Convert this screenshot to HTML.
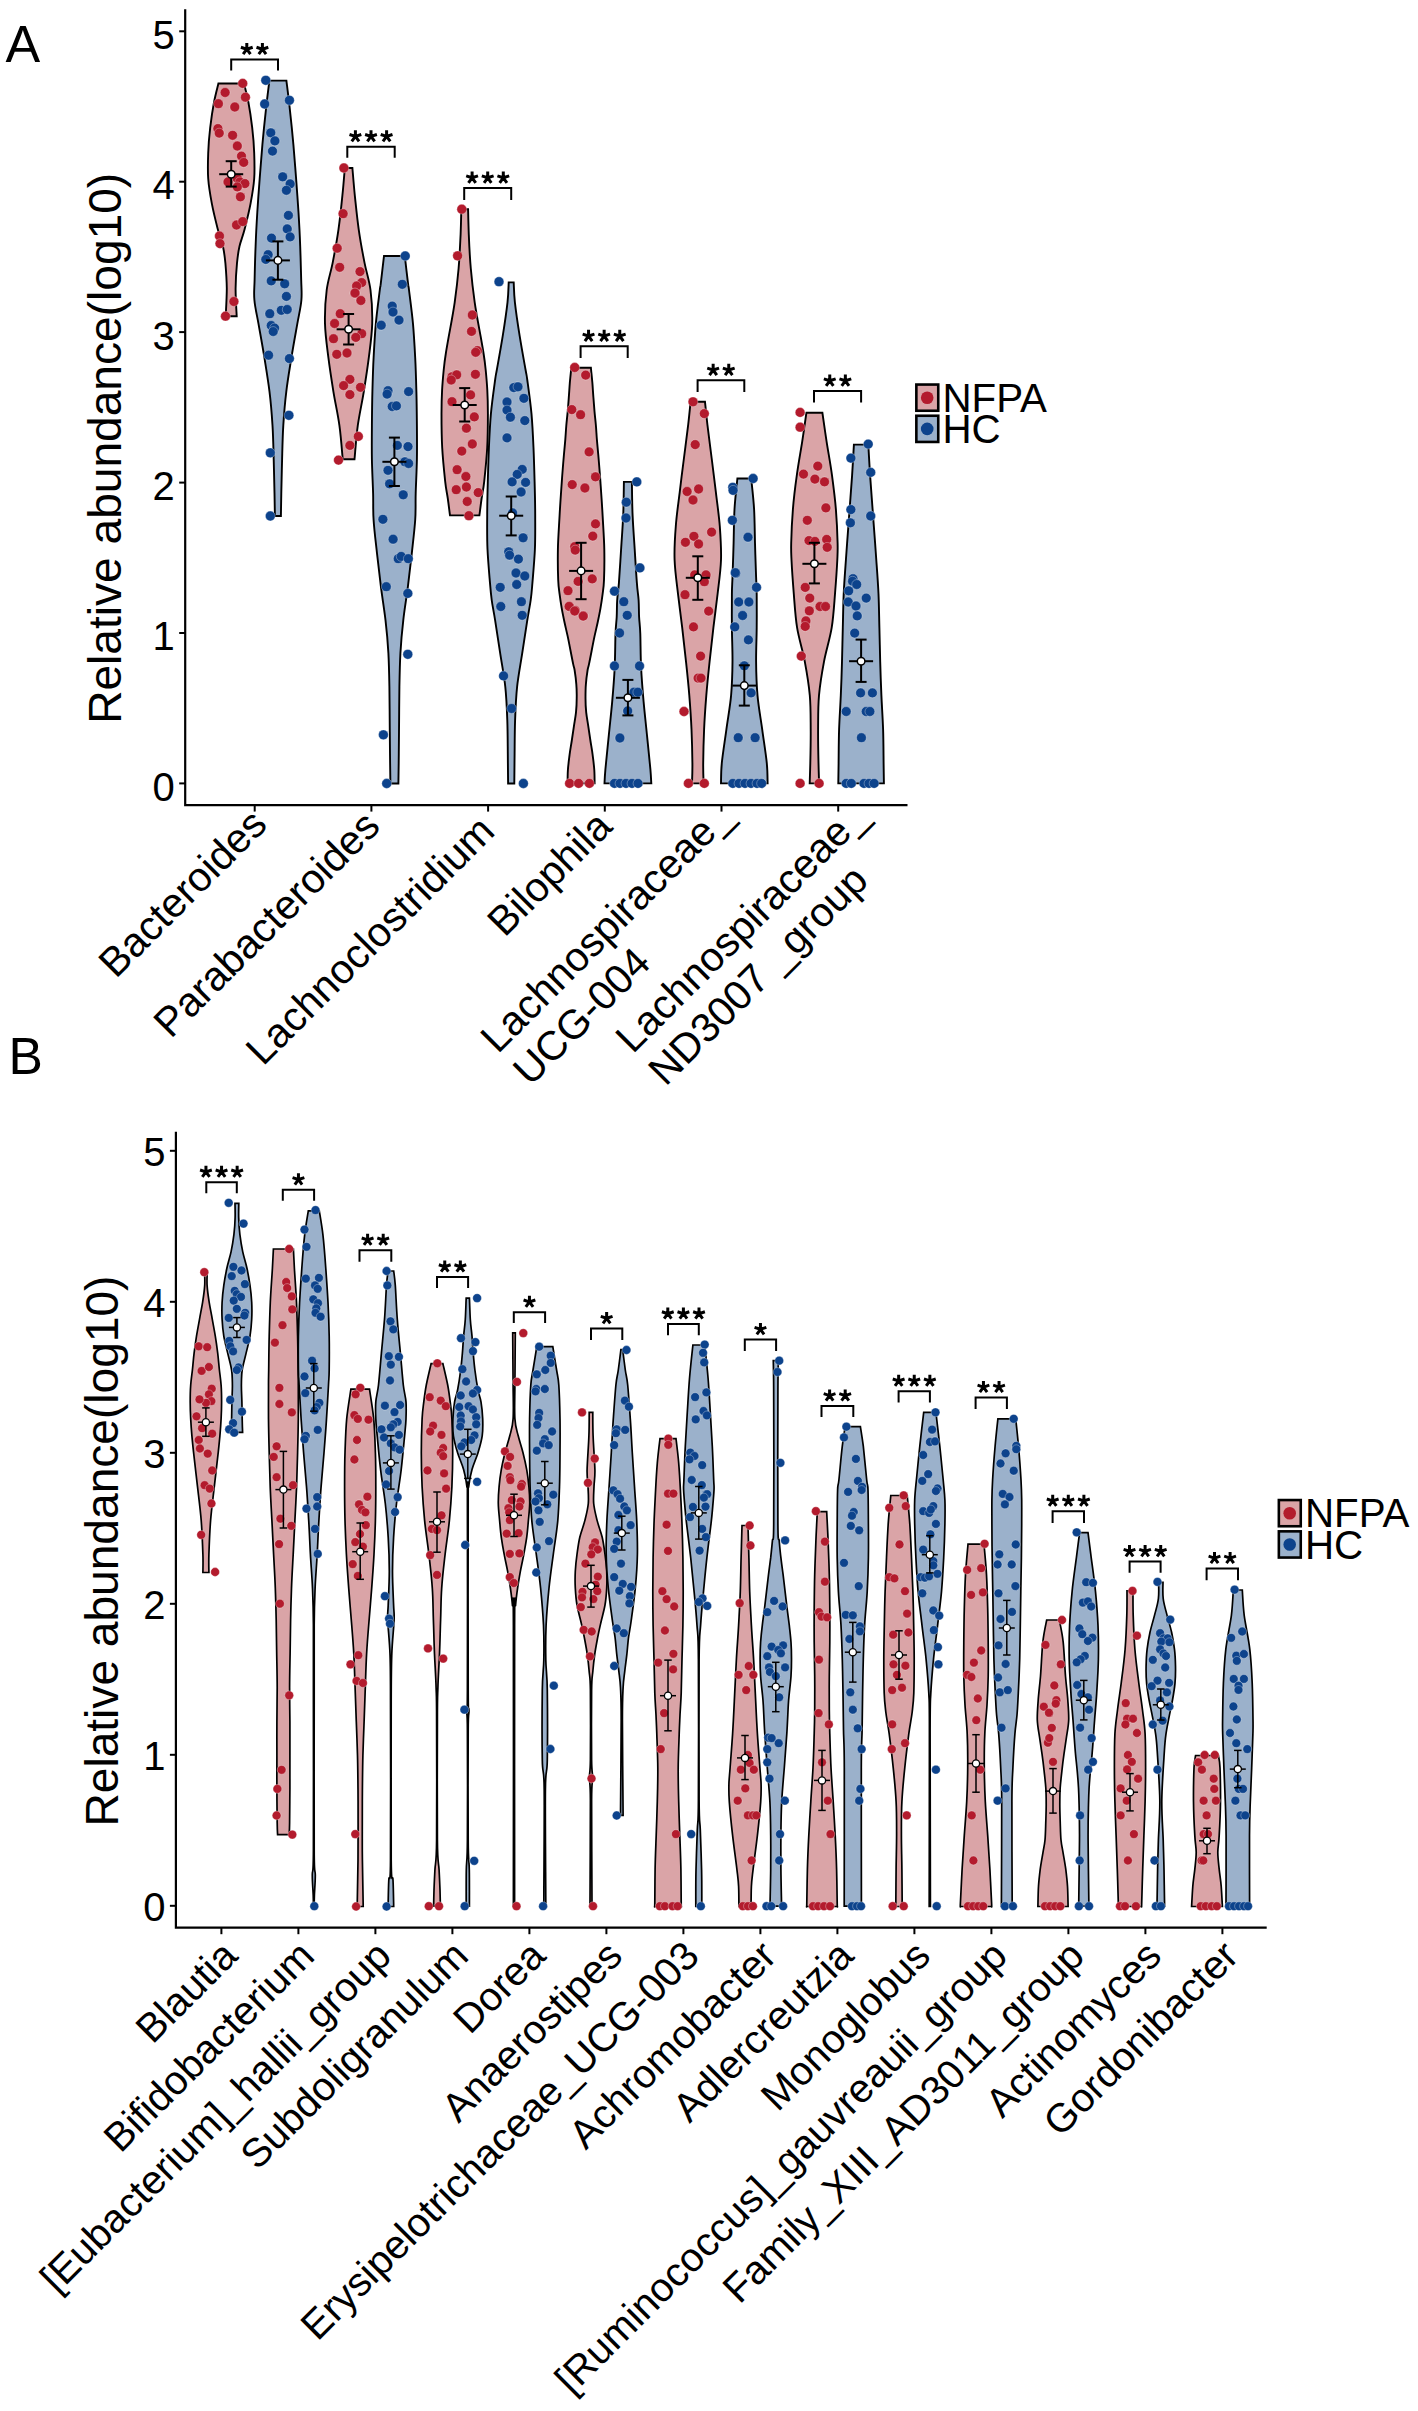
<!DOCTYPE html>
<html><head><meta charset="utf-8"><style>html,body{margin:0;padding:0;background:#fff;}svg{display:block}</style></head>
<body><svg xmlns="http://www.w3.org/2000/svg" width="1418" height="2411" viewBox="0 0 1418 2411">
<rect width="1418" height="2411" fill="#fff"/>
<text x="5.5" y="62.3" font-size="52" font-family="Liberation Sans, sans-serif">A</text>
<text transform="translate(120.7,723.8) rotate(-90)" font-size="46.1" font-family="Liberation Sans, sans-serif">Relative abundance(log10)</text>
<path d="M244.0,83.5 L218.4,83.5 C217.7,86.6 215.4,94.9 214.0,102.3 C212.6,109.7 211.2,119.2 210.2,127.7 C209.2,136.2 208.5,144.6 208.2,153.1 C207.9,161.6 207.6,170.0 208.2,178.5 C208.8,187.0 210.3,195.4 211.9,203.9 C213.5,212.4 216.0,222.2 217.8,229.3 C219.6,236.4 221.6,240.6 222.9,246.2 C224.2,251.8 224.7,256.1 225.4,263.1 C226.0,270.2 226.7,279.6 226.8,288.5 C226.8,297.4 225.9,311.6 225.7,316.2 L236.7,316.2 C236.5,311.6 235.5,297.4 235.6,288.5 C235.7,279.6 236.3,270.2 237.0,263.1 C237.7,256.1 238.2,251.8 239.5,246.2 C240.8,240.6 242.8,236.4 244.6,229.3 C246.4,222.2 248.9,212.4 250.5,203.9 C252.1,195.4 253.6,187.0 254.2,178.5 C254.8,170.0 254.5,161.6 254.2,153.1 C253.9,144.6 253.2,136.2 252.2,127.7 C251.2,119.2 249.8,109.7 248.4,102.3 C247.0,94.9 244.7,86.6 244.0,83.5 Z" fill="#DAA4A7" stroke="#000" stroke-width="1.9" stroke-linejoin="miter"/>
<path d="M286.4,80.6 L269.4,80.6 C268.8,85.6 266.9,100.1 265.8,110.8 C264.6,121.5 263.4,133.3 262.4,144.6 C261.4,155.9 260.6,167.2 259.7,178.5 C258.8,189.8 258.0,201.0 257.3,212.3 C256.6,223.6 256.0,234.9 255.6,246.2 C255.1,257.5 254.8,271.0 254.6,280.0 C254.4,289.0 253.7,292.7 254.4,300.0 C255.0,307.3 256.8,314.3 258.5,323.9 C260.2,333.5 262.6,346.4 264.4,357.7 C266.2,369.0 268.1,380.3 269.5,391.6 C270.9,402.9 271.8,414.1 272.5,425.4 C273.2,436.7 273.4,448.0 273.7,459.3 C274.0,470.6 274.3,483.7 274.5,493.1 C274.7,502.6 274.8,512.2 274.9,516.0 L280.9,516.0 C281.0,512.2 281.1,502.6 281.3,493.1 C281.5,483.7 281.8,470.6 282.1,459.3 C282.4,448.0 282.6,436.7 283.3,425.4 C284.0,414.1 284.9,402.9 286.3,391.6 C287.6,380.3 289.6,369.0 291.4,357.7 C293.2,346.4 295.6,333.5 297.3,323.9 C299.0,314.3 300.8,307.3 301.4,300.0 C302.0,292.7 301.4,289.0 301.2,280.0 C301.0,271.0 300.6,257.5 300.2,246.2 C299.8,234.9 299.2,223.6 298.5,212.3 C297.8,201.0 296.9,189.8 296.1,178.5 C295.2,167.2 294.4,155.9 293.4,144.6 C292.4,133.3 291.2,121.5 290.0,110.8 C288.9,100.1 287.0,85.6 286.4,80.6 Z" fill="#9BB1CB" stroke="#000" stroke-width="1.9" stroke-linejoin="miter"/>
<path d="M352.4,168.0 L344.8,168.0 C344.4,172.6 343.5,185.2 342.4,195.4 C341.4,205.6 340.1,218.0 338.5,229.3 C336.9,240.6 334.6,253.0 332.6,263.1 C330.6,273.2 328.0,279.9 326.7,290.0 C325.4,300.1 324.7,312.6 325.0,323.9 C325.3,335.2 327.0,346.4 328.4,357.7 C329.8,369.0 331.6,380.3 333.4,391.6 C335.2,402.9 337.9,414.1 339.4,425.4 C341.0,436.7 342.2,453.6 342.7,459.3 L354.5,459.3 C355.1,453.6 356.2,436.7 357.8,425.4 C359.4,414.1 362.0,402.9 363.8,391.6 C365.6,380.3 367.4,369.0 368.8,357.7 C370.2,346.4 371.9,335.2 372.2,323.9 C372.5,312.6 371.8,300.1 370.5,290.0 C369.2,279.9 366.6,273.2 364.6,263.1 C362.6,253.0 360.3,240.6 358.7,229.3 C357.1,218.0 355.9,205.6 354.8,195.4 C353.8,185.2 352.8,172.6 352.4,168.0 Z" fill="#DAA4A7" stroke="#000" stroke-width="1.9" stroke-linejoin="miter"/>
<path d="M404.8,256.0 L384.0,256.0 C383.4,260.7 381.4,278.5 380.7,284.2 C380.0,289.9 380.6,283.4 379.8,290.0 C379.0,296.6 376.8,312.6 375.8,323.9 C374.8,335.2 374.2,346.4 373.6,357.7 C373.0,369.0 372.7,380.3 372.4,391.6 C372.1,402.9 372.0,414.1 371.9,425.4 C371.8,436.7 371.7,448.0 371.9,459.3 C372.1,470.6 372.8,483.0 373.1,493.1 C373.4,503.2 372.9,509.9 373.6,520.0 C374.2,530.0 375.8,542.3 377.0,553.4 C378.2,564.5 379.5,575.6 380.9,586.7 C382.3,597.8 384.2,609.0 385.5,620.1 C386.8,631.2 387.8,642.3 388.4,653.4 C389.0,664.5 389.2,675.7 389.4,686.8 C389.6,697.9 389.6,709.0 389.7,720.1 C389.8,731.2 389.9,742.9 390.0,753.5 C390.1,764.1 390.3,778.5 390.4,783.5 L398.4,783.5 C398.5,778.5 398.7,764.1 398.8,753.5 C398.9,742.9 399.0,731.2 399.1,720.1 C399.2,709.0 399.2,697.9 399.4,686.8 C399.6,675.7 399.8,664.5 400.4,653.4 C401.0,642.3 402.0,631.2 403.3,620.1 C404.5,609.0 406.5,597.8 407.9,586.7 C409.3,575.6 410.6,564.5 411.8,553.4 C413.0,542.3 414.5,530.0 415.2,520.0 C415.9,509.9 415.4,503.2 415.7,493.1 C416.0,483.0 416.7,470.6 416.9,459.3 C417.1,448.0 417.0,436.7 416.9,425.4 C416.8,414.1 416.7,402.9 416.4,391.6 C416.1,380.3 415.8,369.0 415.2,357.7 C414.6,346.4 414.0,335.2 413.0,323.9 C412.0,312.6 409.8,296.6 409.0,290.0 C408.2,283.4 408.8,289.9 408.1,284.2 C407.4,278.5 405.3,260.7 404.8,256.0 Z" fill="#9BB1CB" stroke="#000" stroke-width="1.9" stroke-linejoin="miter"/>
<path d="M468.1,209.2 L461.3,209.2 C461.2,213.4 461.0,224.7 460.6,234.6 C460.1,244.5 459.6,257.2 458.6,268.5 C457.6,279.8 456.3,291.0 454.7,302.3 C453.1,313.6 450.3,327.8 448.8,336.2 C447.3,344.6 446.8,347.4 445.9,353.0 C445.0,358.6 444.3,363.8 443.7,370.0 C443.1,376.2 442.5,382.7 442.1,390.0 C441.7,397.3 441.5,404.3 441.5,413.9 C441.5,423.5 441.6,436.4 442.2,447.7 C442.8,459.0 444.3,473.1 445.2,481.6 C446.1,490.1 447.0,492.9 447.8,498.5 C448.6,504.1 449.6,512.6 450.0,515.4 L479.4,515.4 C479.8,512.6 480.8,504.1 481.6,498.5 C482.4,492.9 483.3,490.1 484.2,481.6 C485.1,473.1 486.6,459.0 487.2,447.7 C487.8,436.4 487.9,423.5 487.9,413.9 C487.9,404.3 487.7,397.3 487.3,390.0 C486.9,382.7 486.3,376.2 485.7,370.0 C485.1,363.8 484.4,358.6 483.5,353.0 C482.6,347.4 482.1,344.6 480.6,336.2 C479.1,327.8 476.3,313.6 474.7,302.3 C473.1,291.0 471.8,279.8 470.8,268.5 C469.8,257.2 469.2,244.5 468.8,234.6 C468.4,224.7 468.2,213.4 468.1,209.2 Z" fill="#DAA4A7" stroke="#000" stroke-width="1.9" stroke-linejoin="miter"/>
<path d="M513.7,282.4 L508.7,282.4 C508.5,285.7 508.5,293.3 507.5,302.3 C506.5,311.3 504.5,324.9 502.7,336.2 C500.9,347.5 498.1,362.7 496.8,370.0 C495.5,377.3 496.1,372.7 495.1,380.0 C494.1,387.3 491.9,402.6 490.9,413.9 C489.9,425.2 489.4,436.4 488.9,447.7 C488.4,459.0 488.1,470.3 487.8,481.6 C487.5,492.9 487.2,504.1 487.2,515.4 C487.1,526.7 487.0,538.0 487.5,549.3 C488.0,560.6 489.3,574.6 490.0,583.1 C490.7,591.6 490.9,593.8 491.7,600.0 C492.5,606.2 493.7,611.2 495.1,620.1 C496.5,629.0 498.5,642.3 500.2,653.4 C501.9,664.5 504.1,675.7 505.3,686.8 C506.5,697.9 506.9,709.0 507.3,720.1 C507.7,731.2 507.7,742.9 507.8,753.5 C507.9,764.1 508.0,778.5 508.1,783.5 L514.3,783.5 C514.3,778.5 514.5,764.1 514.6,753.5 C514.7,742.9 514.7,731.2 515.1,720.1 C515.5,709.0 515.9,697.9 517.1,686.8 C518.3,675.7 520.5,664.5 522.2,653.4 C523.9,642.3 525.9,629.0 527.3,620.1 C528.7,611.2 529.9,606.2 530.7,600.0 C531.6,593.8 531.7,591.6 532.4,583.1 C533.1,574.6 534.4,560.6 534.9,549.3 C535.4,538.0 535.2,526.7 535.2,515.4 C535.2,504.1 534.9,492.9 534.6,481.6 C534.3,470.3 534.0,459.0 533.5,447.7 C533.0,436.4 532.5,425.2 531.5,413.9 C530.5,402.6 528.3,387.3 527.3,380.0 C526.3,372.7 526.9,377.3 525.6,370.0 C524.3,362.7 521.5,347.5 519.7,336.2 C517.9,324.9 515.9,311.3 514.9,302.3 C513.9,293.3 513.9,285.7 513.7,282.4 Z" fill="#9BB1CB" stroke="#000" stroke-width="1.9" stroke-linejoin="miter"/>
<path d="M590.9,367.7 L571.3,367.7 C571.1,370.3 570.2,378.3 569.8,383.2 C569.4,388.1 569.2,392.6 568.8,397.3 C568.5,402.0 568.1,406.7 567.7,411.4 C567.3,416.1 566.7,420.8 566.3,425.5 C565.9,430.2 565.7,434.7 565.3,439.6 C564.9,444.5 564.5,448.0 563.9,455.0 C563.3,462.0 562.5,471.5 561.8,481.6 C561.1,491.7 560.2,504.1 559.6,515.4 C559.0,526.7 558.1,538.5 557.9,549.3 C557.7,560.1 557.9,572.5 558.2,580.0 C558.5,587.5 559.0,589.4 559.6,594.1 C560.2,598.8 560.9,603.5 561.7,608.2 C562.5,612.9 563.5,617.6 564.5,622.3 C565.5,627.0 566.7,631.7 567.7,636.4 C568.7,641.1 569.6,645.8 570.5,650.5 C571.4,655.2 572.6,661.4 573.3,664.6 C574.0,667.9 574.1,666.8 574.6,670.0 C575.1,673.2 576.0,679.4 576.3,684.1 C576.7,688.8 576.8,693.5 576.7,698.2 C576.7,702.9 576.5,707.6 576.0,712.3 C575.5,717.0 574.6,721.7 573.9,726.4 C573.2,731.1 572.5,735.8 571.8,740.5 C571.1,745.2 570.2,749.7 569.6,754.6 C569.0,759.5 568.2,765.2 567.9,770.0 C567.6,774.8 567.6,781.2 567.6,783.4 L594.6,783.4 C594.6,781.2 594.6,774.8 594.3,770.0 C594.0,765.2 593.2,759.5 592.6,754.6 C592.0,749.7 591.1,745.2 590.4,740.5 C589.7,735.8 589.0,731.1 588.3,726.4 C587.6,721.7 586.7,717.0 586.2,712.3 C585.7,707.6 585.5,702.9 585.5,698.2 C585.5,693.5 585.5,688.8 585.9,684.1 C586.2,679.4 587.1,673.2 587.6,670.0 C588.1,666.8 588.2,667.9 588.9,664.6 C589.6,661.4 590.8,655.2 591.7,650.5 C592.6,645.8 593.5,641.1 594.5,636.4 C595.5,631.7 596.7,627.0 597.7,622.3 C598.7,617.6 599.7,612.9 600.5,608.2 C601.3,603.5 602.0,598.8 602.6,594.1 C603.2,589.4 603.7,587.5 604.0,580.0 C604.3,572.5 604.5,560.1 604.3,549.3 C604.1,538.5 603.2,526.7 602.6,515.4 C602.0,504.1 601.1,491.7 600.4,481.6 C599.7,471.5 598.9,462.0 598.3,455.0 C597.7,448.0 597.3,444.5 596.9,439.6 C596.5,434.7 596.3,430.2 595.9,425.5 C595.5,420.8 594.9,416.1 594.5,411.4 C594.1,406.7 593.8,402.0 593.4,397.3 C593.0,392.6 592.8,388.1 592.4,383.2 C592.0,378.3 591.1,370.3 590.9,367.7 Z" fill="#DAA4A7" stroke="#000" stroke-width="1.9" stroke-linejoin="miter"/>
<path d="M631.9,481.9 L623.9,481.9 C623.8,487.5 623.7,504.2 623.2,515.4 C622.7,526.6 621.8,538.0 621.1,549.3 C620.4,560.6 619.5,574.6 618.9,583.1 C618.2,591.6 617.6,594.4 617.2,600.0 C616.8,605.6 617.0,611.4 616.7,617.0 C616.4,622.6 615.8,625.4 615.5,633.9 C615.2,642.4 615.2,656.4 614.7,667.7 C614.1,679.0 613.2,690.3 612.2,701.6 C611.2,712.9 609.9,724.1 608.8,735.4 C607.7,746.7 606.1,761.3 605.4,769.3 C604.7,777.3 604.6,781.0 604.5,783.4 L651.3,783.4 C651.1,781.0 651.1,777.3 650.4,769.3 C649.7,761.3 648.1,746.7 647.0,735.4 C645.9,724.1 644.6,712.9 643.6,701.6 C642.6,690.3 641.7,679.0 641.1,667.7 C640.5,656.4 640.6,642.4 640.3,633.9 C640.0,625.4 639.4,622.6 639.1,617.0 C638.8,611.4 639.0,605.6 638.6,600.0 C638.2,594.4 637.5,591.6 636.9,583.1 C636.2,574.6 635.4,560.6 634.7,549.3 C634.0,538.0 633.1,526.6 632.6,515.4 C632.1,504.2 632.0,487.5 631.9,481.9 Z" fill="#9BB1CB" stroke="#000" stroke-width="1.9" stroke-linejoin="miter"/>
<path d="M705.0,401.8 L690.6,401.8 C690.2,405.6 689.3,415.2 688.2,424.6 C687.1,434.1 685.3,447.2 683.9,458.5 C682.5,469.8 681.0,481.0 679.7,492.3 C678.3,503.6 676.6,514.9 675.8,526.2 C674.9,537.5 674.2,548.7 674.6,560.0 C675.0,571.3 676.7,582.6 678.0,593.9 C679.3,605.2 680.9,616.4 682.2,627.7 C683.5,639.0 684.8,650.3 686.0,661.6 C687.2,672.9 688.4,684.1 689.3,695.4 C690.2,706.7 691.0,718.0 691.5,729.3 C692.0,740.6 692.3,754.1 692.4,763.1 C692.5,772.1 692.1,780.0 692.0,783.4 L703.6,783.4 C703.5,780.0 703.1,772.1 703.2,763.1 C703.3,754.1 703.6,740.6 704.1,729.3 C704.6,718.0 705.4,706.7 706.3,695.4 C707.2,684.1 708.4,672.9 709.6,661.6 C710.8,650.3 712.1,639.0 713.4,627.7 C714.7,616.4 716.3,605.2 717.6,593.9 C718.9,582.6 720.6,571.3 721.0,560.0 C721.4,548.7 720.6,537.5 719.8,526.2 C718.9,514.9 717.2,503.6 715.9,492.3 C714.5,481.0 713.1,469.8 711.7,458.5 C710.3,447.2 708.5,434.1 707.4,424.6 C706.3,415.2 705.4,405.6 705.0,401.8 Z" fill="#DAA4A7" stroke="#000" stroke-width="1.9" stroke-linejoin="miter"/>
<path d="M751.2,478.5 L737.4,478.5 C736.9,483.6 735.1,498.5 734.5,509.3 C733.9,520.1 733.9,531.8 733.6,543.1 C733.3,554.4 732.8,568.5 732.5,577.0 C732.2,585.5 732.0,585.4 731.9,593.9 C731.8,602.4 731.8,616.4 731.9,627.7 C732.0,639.0 732.6,650.3 732.5,661.6 C732.4,672.9 732.1,684.1 731.1,695.4 C730.1,706.7 727.9,718.0 726.4,729.3 C724.9,740.6 722.7,754.1 721.8,763.1 C720.9,772.1 721.1,780.0 721.0,783.4 L767.6,783.4 C767.5,780.0 767.7,772.1 766.8,763.1 C765.9,754.1 763.7,740.6 762.2,729.3 C760.6,718.0 758.5,706.7 757.5,695.4 C756.5,684.1 756.2,672.9 756.1,661.6 C756.0,650.3 756.6,639.0 756.7,627.7 C756.8,616.4 756.8,602.4 756.7,593.9 C756.6,585.4 756.4,585.5 756.1,577.0 C755.8,568.5 755.3,554.4 755.0,543.1 C754.7,531.8 754.7,520.1 754.1,509.3 C753.5,498.5 751.7,483.6 751.2,478.5 Z" fill="#9BB1CB" stroke="#000" stroke-width="1.9" stroke-linejoin="miter"/>
<path d="M822.4,412.8 L806.4,412.8 C805.7,417.6 803.8,431.2 802.2,441.6 C800.6,452.0 798.3,464.1 796.8,475.4 C795.2,486.7 793.8,498.0 792.9,509.3 C792.0,520.6 791.4,534.6 791.2,543.1 C791.0,551.6 791.1,551.5 791.5,560.0 C791.9,568.5 792.9,582.6 793.8,593.9 C794.7,605.2 795.3,616.4 797.1,627.7 C798.9,639.0 802.7,650.3 804.8,661.6 C806.9,672.9 808.8,684.1 809.8,695.4 C810.8,706.7 810.6,718.0 810.7,729.3 C810.8,740.6 810.5,754.1 810.3,763.1 C810.1,772.1 809.8,780.0 809.7,783.4 L819.1,783.4 C819.0,780.0 818.7,772.1 818.5,763.1 C818.3,754.1 818.0,740.6 818.1,729.3 C818.2,718.0 818.0,706.7 819.0,695.4 C820.0,684.1 821.9,672.9 824.0,661.6 C826.1,650.3 829.9,639.0 831.7,627.7 C833.5,616.4 834.1,605.2 835.0,593.9 C835.9,582.6 836.9,568.5 837.3,560.0 C837.7,551.5 837.8,551.6 837.6,543.1 C837.4,534.6 836.8,520.6 835.9,509.3 C835.0,498.0 833.5,486.7 832.0,475.4 C830.5,464.1 828.2,452.0 826.6,441.6 C825.0,431.2 823.1,417.6 822.4,412.8 Z" fill="#DAA4A7" stroke="#000" stroke-width="1.9" stroke-linejoin="miter"/>
<path d="M868.3,444.6 L853.9,444.6 C853.6,449.7 852.8,464.6 852.1,475.4 C851.4,486.2 850.4,498.0 849.6,509.3 C848.8,520.6 847.7,534.6 847.1,543.1 C846.5,551.6 846.5,551.5 845.9,560.0 C845.3,568.5 844.2,582.6 843.7,593.9 C843.2,605.2 843.1,616.4 842.8,627.7 C842.5,639.0 842.3,650.3 842.0,661.6 C841.7,672.9 841.3,684.1 840.8,695.4 C840.3,706.7 839.5,718.0 839.1,729.3 C838.7,740.6 838.7,754.1 838.6,763.1 C838.5,772.1 838.4,780.0 838.3,783.4 L883.9,783.4 C883.9,780.0 883.7,772.1 883.6,763.1 C883.5,754.1 883.5,740.6 883.1,729.3 C882.7,718.0 881.9,706.7 881.4,695.4 C880.9,684.1 880.5,672.9 880.2,661.6 C879.9,650.3 879.7,639.0 879.4,627.7 C879.1,616.4 879.0,605.2 878.5,593.9 C878.0,582.6 876.9,568.5 876.3,560.0 C875.7,551.5 875.7,551.6 875.1,543.1 C874.5,534.6 873.4,520.6 872.6,509.3 C871.8,498.0 870.8,486.2 870.1,475.4 C869.4,464.6 868.6,449.7 868.3,444.6 Z" fill="#9BB1CB" stroke="#000" stroke-width="1.9" stroke-linejoin="miter"/>
<g fill="#B31B2D" stroke="#fff" stroke-opacity="0.35" stroke-width="0.9"><circle cx="242.7" cy="83.4" r="4.9"/><circle cx="225.1" cy="92.5" r="4.9"/><circle cx="245.4" cy="97.2" r="4.9"/><circle cx="218.4" cy="103.7" r="4.9"/><circle cx="234.8" cy="107.0" r="4.9"/><circle cx="217.9" cy="128.6" r="4.9"/><circle cx="219.2" cy="133.1" r="4.9"/><circle cx="232.6" cy="135.3" r="4.9"/><circle cx="237.3" cy="146.0" r="4.9"/><circle cx="241.5" cy="156.1" r="4.9"/><circle cx="243.7" cy="162.4" r="4.9"/><circle cx="228.0" cy="181.9" r="4.9"/><circle cx="237.3" cy="178.5" r="4.9"/><circle cx="239.9" cy="181.9" r="4.9"/><circle cx="244.9" cy="183.6" r="4.9"/><circle cx="237.3" cy="186.9" r="4.9"/><circle cx="240.4" cy="196.8" r="4.9"/><circle cx="236.5" cy="225.0" r="4.9"/><circle cx="242.7" cy="221.6" r="4.9"/><circle cx="219.5" cy="236.0" r="4.9"/><circle cx="220.0" cy="243.6" r="4.9"/><circle cx="233.9" cy="301.5" r="4.9"/><circle cx="225.5" cy="316.2" r="4.9"/></g>
<g fill="#0D438C" stroke="#fff" stroke-opacity="0.35" stroke-width="0.9"><circle cx="265.8" cy="80.3" r="4.9"/><circle cx="289.4" cy="100.3" r="4.9"/><circle cx="264.7" cy="104.0" r="4.9"/><circle cx="270.8" cy="132.8" r="4.9"/><circle cx="274.9" cy="140.9" r="4.9"/><circle cx="272.5" cy="151.1" r="4.9"/><circle cx="282.7" cy="176.8" r="4.9"/><circle cx="290.1" cy="183.9" r="4.9"/><circle cx="286.4" cy="190.3" r="4.9"/><circle cx="288.4" cy="215.4" r="4.9"/><circle cx="287.2" cy="228.9" r="4.9"/><circle cx="290.1" cy="236.9" r="4.9"/><circle cx="271.5" cy="238.1" r="4.9"/><circle cx="268.1" cy="254.7" r="4.9"/><circle cx="265.8" cy="259.4" r="4.9"/><circle cx="271.2" cy="280.9" r="4.9"/><circle cx="284.7" cy="283.8" r="4.9"/><circle cx="286.4" cy="296.4" r="4.9"/><circle cx="281.3" cy="310.3" r="4.9"/><circle cx="287.2" cy="309.5" r="4.9"/><circle cx="269.8" cy="313.7" r="4.9"/><circle cx="271.2" cy="325.5" r="4.9"/><circle cx="274.6" cy="328.1" r="4.9"/><circle cx="273.2" cy="331.5" r="4.9"/><circle cx="268.6" cy="355.2" r="4.9"/><circle cx="289.4" cy="358.6" r="4.9"/><circle cx="288.9" cy="415.3" r="4.9"/><circle cx="270.3" cy="452.8" r="4.9"/><circle cx="270.3" cy="516.0" r="4.9"/></g>
<g fill="#B31B2D" stroke="#fff" stroke-opacity="0.35" stroke-width="0.9"><circle cx="343.9" cy="168.0" r="4.9"/><circle cx="343.1" cy="213.7" r="4.9"/><circle cx="337.2" cy="248.2" r="4.9"/><circle cx="339.7" cy="267.3" r="4.9"/><circle cx="360.0" cy="271.6" r="4.9"/><circle cx="361.7" cy="282.6" r="4.9"/><circle cx="356.6" cy="286.0" r="4.9"/><circle cx="355.0" cy="293.2" r="4.9"/><circle cx="355.0" cy="293.0" r="4.9"/><circle cx="360.9" cy="300.5" r="4.9"/><circle cx="340.2" cy="313.7" r="4.9"/><circle cx="334.6" cy="323.5" r="4.9"/><circle cx="361.7" cy="333.7" r="4.9"/><circle cx="355.8" cy="337.4" r="4.9"/><circle cx="333.5" cy="338.7" r="4.9"/><circle cx="336.8" cy="354.3" r="4.9"/><circle cx="347.0" cy="353.0" r="4.9"/><circle cx="349.9" cy="379.4" r="4.9"/><circle cx="343.6" cy="385.6" r="4.9"/><circle cx="360.5" cy="387.3" r="4.9"/><circle cx="349.9" cy="394.6" r="4.9"/><circle cx="358.3" cy="436.4" r="4.9"/><circle cx="349.9" cy="445.4" r="4.9"/><circle cx="338.5" cy="460.1" r="4.9"/></g>
<g fill="#0D438C" stroke="#fff" stroke-opacity="0.35" stroke-width="0.9"><circle cx="405.2" cy="256.0" r="4.9"/><circle cx="402.3" cy="284.3" r="4.9"/><circle cx="392.2" cy="306.1" r="4.9"/><circle cx="393.0" cy="312.0" r="4.9"/><circle cx="399.0" cy="320.1" r="4.9"/><circle cx="381.2" cy="325.2" r="4.9"/><circle cx="388.0" cy="390.7" r="4.9"/><circle cx="387.1" cy="394.1" r="4.9"/><circle cx="408.6" cy="391.6" r="4.9"/><circle cx="392.2" cy="406.5" r="4.9"/><circle cx="396.4" cy="405.9" r="4.9"/><circle cx="397.3" cy="445.4" r="4.9"/><circle cx="408.0" cy="446.6" r="4.9"/><circle cx="404.9" cy="461.8" r="4.9"/><circle cx="408.6" cy="463.5" r="4.9"/><circle cx="388.0" cy="470.3" r="4.9"/><circle cx="389.6" cy="483.8" r="4.9"/><circle cx="403.2" cy="494.8" r="4.9"/><circle cx="382.9" cy="519.3" r="4.9"/><circle cx="393.1" cy="539.2" r="4.9"/><circle cx="398.2" cy="558.7" r="4.9"/><circle cx="401.2" cy="556.4" r="4.9"/><circle cx="408.3" cy="558.7" r="4.9"/><circle cx="386.3" cy="586.7" r="4.9"/><circle cx="407.8" cy="593.4" r="4.9"/><circle cx="407.8" cy="654.3" r="4.9"/><circle cx="383.4" cy="734.8" r="4.9"/><circle cx="386.7" cy="783.5" r="4.9"/></g>
<g fill="#B31B2D" stroke="#fff" stroke-opacity="0.35" stroke-width="0.9"><circle cx="461.8" cy="209.2" r="4.9"/><circle cx="457.6" cy="255.8" r="4.9"/><circle cx="472.3" cy="315.0" r="4.9"/><circle cx="471.5" cy="331.4" r="4.9"/><circle cx="477.4" cy="350.6" r="4.9"/><circle cx="475.7" cy="352.3" r="4.9"/><circle cx="452.0" cy="376.8" r="4.9"/><circle cx="456.7" cy="374.8" r="4.9"/><circle cx="475.4" cy="374.3" r="4.9"/><circle cx="451.2" cy="380.0" r="4.9"/><circle cx="470.6" cy="394.9" r="4.9"/><circle cx="452.0" cy="401.7" r="4.9"/><circle cx="474.3" cy="416.9" r="4.9"/><circle cx="466.4" cy="428.2" r="4.9"/><circle cx="472.3" cy="444.0" r="4.9"/><circle cx="461.8" cy="451.1" r="4.9"/><circle cx="457.1" cy="469.7" r="4.9"/><circle cx="465.9" cy="476.5" r="4.9"/><circle cx="456.2" cy="489.7" r="4.9"/><circle cx="466.4" cy="487.0" r="4.9"/><circle cx="478.2" cy="492.6" r="4.9"/><circle cx="467.2" cy="501.5" r="4.9"/><circle cx="468.9" cy="515.7" r="4.9"/></g>
<g fill="#0D438C" stroke="#fff" stroke-opacity="0.35" stroke-width="0.9"><circle cx="499.0" cy="281.7" r="4.9"/><circle cx="516.3" cy="387.0" r="4.9"/><circle cx="513.8" cy="387.6" r="4.9"/><circle cx="518.0" cy="386.8" r="4.9"/><circle cx="523.9" cy="398.3" r="4.9"/><circle cx="507.0" cy="402.0" r="4.9"/><circle cx="507.0" cy="410.1" r="4.9"/><circle cx="510.4" cy="417.2" r="4.9"/><circle cx="524.8" cy="420.6" r="4.9"/><circle cx="507.0" cy="437.9" r="4.9"/><circle cx="522.2" cy="469.4" r="4.9"/><circle cx="517.2" cy="474.4" r="4.9"/><circle cx="512.1" cy="481.9" r="4.9"/><circle cx="525.6" cy="482.4" r="4.9"/><circle cx="521.1" cy="492.0" r="4.9"/><circle cx="512.6" cy="512.9" r="4.9"/><circle cx="523.1" cy="537.8" r="4.9"/><circle cx="508.7" cy="551.8" r="4.9"/><circle cx="509.6" cy="555.2" r="4.9"/><circle cx="518.4" cy="559.1" r="4.9"/><circle cx="516.0" cy="573.0" r="4.9"/><circle cx="524.8" cy="576.0" r="4.9"/><circle cx="516.7" cy="584.5" r="4.9"/><circle cx="500.2" cy="587.3" r="4.9"/><circle cx="521.4" cy="601.7" r="4.9"/><circle cx="500.8" cy="606.5" r="4.9"/><circle cx="522.2" cy="615.3" r="4.9"/><circle cx="503.6" cy="675.9" r="4.9"/><circle cx="511.6" cy="708.5" r="4.9"/><circle cx="523.4" cy="783.5" r="4.9"/></g>
<g fill="#B31B2D" stroke="#fff" stroke-opacity="0.35" stroke-width="0.9"><circle cx="574.7" cy="367.5" r="4.9"/><circle cx="585.7" cy="375.1" r="4.9"/><circle cx="571.8" cy="409.6" r="4.9"/><circle cx="580.6" cy="414.7" r="4.9"/><circle cx="589.1" cy="451.9" r="4.9"/><circle cx="595.5" cy="476.8" r="4.9"/><circle cx="572.2" cy="484.6" r="4.9"/><circle cx="584.9" cy="488.0" r="4.9"/><circle cx="595.5" cy="523.9" r="4.9"/><circle cx="592.8" cy="536.1" r="4.9"/><circle cx="574.7" cy="546.7" r="4.9"/><circle cx="575.2" cy="550.1" r="4.9"/><circle cx="592.2" cy="578.9" r="4.9"/><circle cx="578.1" cy="581.4" r="4.9"/><circle cx="568.0" cy="590.7" r="4.9"/><circle cx="569.6" cy="606.5" r="4.9"/><circle cx="575.2" cy="610.5" r="4.9"/><circle cx="583.2" cy="615.6" r="4.9"/><circle cx="569.1" cy="606.4" r="4.9"/><circle cx="574.7" cy="611.0" r="4.9"/><circle cx="583.2" cy="616.1" r="4.9"/><circle cx="569.6" cy="783.4" r="4.9"/><circle cx="578.6" cy="783.4" r="4.9"/><circle cx="589.4" cy="783.4" r="4.9"/></g>
<g fill="#0D438C" stroke="#fff" stroke-opacity="0.35" stroke-width="0.9"><circle cx="636.8" cy="481.9" r="4.9"/><circle cx="626.3" cy="502.2" r="4.9"/><circle cx="626.0" cy="518.0" r="4.9"/><circle cx="639.9" cy="567.9" r="4.9"/><circle cx="614.5" cy="591.2" r="4.9"/><circle cx="623.8" cy="601.7" r="4.9"/><circle cx="627.2" cy="615.3" r="4.9"/><circle cx="619.6" cy="633.0" r="4.9"/><circle cx="614.5" cy="666.0" r="4.9"/><circle cx="639.5" cy="666.0" r="4.9"/><circle cx="633.9" cy="692.2" r="4.9"/><circle cx="637.8" cy="692.2" r="4.9"/><circle cx="627.7" cy="710.9" r="4.9"/><circle cx="619.9" cy="738.0" r="4.9"/><circle cx="614.5" cy="783.4" r="4.9"/><circle cx="620.0" cy="783.4" r="4.9"/><circle cx="626.0" cy="783.4" r="4.9"/><circle cx="632.0" cy="783.4" r="4.9"/><circle cx="638.0" cy="783.4" r="4.9"/></g>
<g fill="#B31B2D" stroke="#fff" stroke-opacity="0.35" stroke-width="0.9"><circle cx="693.0" cy="401.8" r="4.9"/><circle cx="704.3" cy="413.6" r="4.9"/><circle cx="695.2" cy="444.6" r="4.9"/><circle cx="687.1" cy="491.5" r="4.9"/><circle cx="698.6" cy="489.0" r="4.9"/><circle cx="693.0" cy="500.0" r="4.9"/><circle cx="711.6" cy="532.1" r="4.9"/><circle cx="693.9" cy="536.3" r="4.9"/><circle cx="685.4" cy="542.3" r="4.9"/><circle cx="698.6" cy="544.0" r="4.9"/><circle cx="694.7" cy="574.9" r="4.9"/><circle cx="706.0" cy="574.9" r="4.9"/><circle cx="704.3" cy="581.7" r="4.9"/><circle cx="685.0" cy="594.7" r="4.9"/><circle cx="708.7" cy="611.1" r="4.9"/><circle cx="693.5" cy="626.9" r="4.9"/><circle cx="700.6" cy="656.1" r="4.9"/><circle cx="698.1" cy="678.1" r="4.9"/><circle cx="701.0" cy="678.1" r="4.9"/><circle cx="684.0" cy="711.5" r="4.9"/><circle cx="688.4" cy="783.4" r="4.9"/><circle cx="704.3" cy="783.4" r="4.9"/></g>
<g fill="#0D438C" stroke="#fff" stroke-opacity="0.35" stroke-width="0.9"><circle cx="753.1" cy="478.5" r="4.9"/><circle cx="732.8" cy="487.3" r="4.9"/><circle cx="733.1" cy="490.3" r="4.9"/><circle cx="732.4" cy="520.3" r="4.9"/><circle cx="748.0" cy="537.2" r="4.9"/><circle cx="735.8" cy="573.2" r="4.9"/><circle cx="735.3" cy="572.7" r="4.9"/><circle cx="756.5" cy="587.4" r="4.9"/><circle cx="738.7" cy="602.0" r="4.9"/><circle cx="748.9" cy="602.0" r="4.9"/><circle cx="742.6" cy="615.5" r="4.9"/><circle cx="734.8" cy="626.9" r="4.9"/><circle cx="748.4" cy="639.9" r="4.9"/><circle cx="744.3" cy="665.8" r="4.9"/><circle cx="751.1" cy="692.9" r="4.9"/><circle cx="738.2" cy="737.7" r="4.9"/><circle cx="755.1" cy="737.7" r="4.9"/><circle cx="732.8" cy="783.4" r="4.9"/><circle cx="739.0" cy="783.4" r="4.9"/><circle cx="745.0" cy="783.4" r="4.9"/><circle cx="751.0" cy="783.4" r="4.9"/><circle cx="757.0" cy="783.4" r="4.9"/><circle cx="761.6" cy="783.4" r="4.9"/></g>
<g fill="#B31B2D" stroke="#fff" stroke-opacity="0.35" stroke-width="0.9"><circle cx="800.1" cy="412.4" r="4.9"/><circle cx="800.1" cy="427.2" r="4.9"/><circle cx="817.8" cy="466.1" r="4.9"/><circle cx="803.5" cy="474.1" r="4.9"/><circle cx="814.9" cy="479.1" r="4.9"/><circle cx="824.5" cy="481.8" r="4.9"/><circle cx="825.9" cy="507.9" r="4.9"/><circle cx="807.3" cy="520.3" r="4.9"/><circle cx="809.0" cy="540.6" r="4.9"/><circle cx="814.9" cy="541.4" r="4.9"/><circle cx="826.7" cy="539.4" r="4.9"/><circle cx="827.2" cy="547.3" r="4.9"/><circle cx="805.2" cy="587.4" r="4.9"/><circle cx="809.8" cy="598.1" r="4.9"/><circle cx="820.0" cy="606.5" r="4.9"/><circle cx="825.5" cy="606.5" r="4.9"/><circle cx="809.3" cy="610.8" r="4.9"/><circle cx="805.9" cy="620.9" r="4.9"/><circle cx="805.2" cy="626.4" r="4.9"/><circle cx="801.3" cy="656.1" r="4.9"/><circle cx="800.1" cy="783.4" r="4.9"/><circle cx="819.1" cy="783.4" r="4.9"/></g>
<g fill="#0D438C" stroke="#fff" stroke-opacity="0.35" stroke-width="0.9"><circle cx="868.2" cy="444.1" r="4.9"/><circle cx="850.9" cy="458.1" r="4.9"/><circle cx="870.7" cy="472.4" r="4.9"/><circle cx="850.9" cy="509.6" r="4.9"/><circle cx="870.7" cy="516.0" r="4.9"/><circle cx="850.4" cy="522.8" r="4.9"/><circle cx="853.0" cy="578.7" r="4.9"/><circle cx="852.6" cy="581.2" r="4.9"/><circle cx="856.7" cy="584.5" r="4.9"/><circle cx="848.7" cy="590.8" r="4.9"/><circle cx="866.2" cy="598.1" r="4.9"/><circle cx="848.2" cy="602.0" r="4.9"/><circle cx="856.0" cy="606.0" r="4.9"/><circle cx="857.2" cy="615.9" r="4.9"/><circle cx="854.7" cy="633.1" r="4.9"/><circle cx="860.6" cy="692.9" r="4.9"/><circle cx="872.4" cy="692.9" r="4.9"/><circle cx="846.2" cy="711.5" r="4.9"/><circle cx="866.2" cy="711.5" r="4.9"/><circle cx="869.9" cy="711.5" r="4.9"/><circle cx="861.4" cy="737.7" r="4.9"/><circle cx="846.2" cy="783.4" r="4.9"/><circle cx="851.3" cy="783.4" r="4.9"/><circle cx="864.0" cy="783.4" r="4.9"/><circle cx="869.0" cy="783.4" r="4.9"/><circle cx="874.1" cy="783.4" r="4.9"/></g>
<g stroke="#000" stroke-width="2" fill="none"><line x1="231.2" y1="161.2" x2="231.2" y2="186.6"/><line x1="225.7" y1="161.2" x2="236.7" y2="161.2"/><line x1="225.7" y1="186.6" x2="236.7" y2="186.6"/><line x1="219.2" y1="174.2" x2="243.2" y2="174.2"/></g><circle cx="231.2" cy="174.2" r="3.8" fill="#fff" stroke="#000" stroke-width="1.5"/>
<g stroke="#000" stroke-width="2" fill="none"><line x1="277.9" y1="241.4" x2="277.9" y2="279.7"/><line x1="272.4" y1="241.4" x2="283.4" y2="241.4"/><line x1="272.4" y1="279.7" x2="283.4" y2="279.7"/><line x1="265.9" y1="260.4" x2="289.9" y2="260.4"/></g><circle cx="277.9" cy="260.4" r="3.8" fill="#fff" stroke="#000" stroke-width="1.5"/>
<g stroke="#000" stroke-width="2" fill="none"><line x1="348.6" y1="314" x2="348.6" y2="344.5"/><line x1="343.1" y1="314" x2="354.1" y2="314"/><line x1="343.1" y1="344.5" x2="354.1" y2="344.5"/><line x1="336.6" y1="329.3" x2="360.6" y2="329.3"/></g><circle cx="348.6" cy="329.3" r="3.8" fill="#fff" stroke="#000" stroke-width="1.5"/>
<g stroke="#000" stroke-width="2" fill="none"><line x1="394.4" y1="437.6" x2="394.4" y2="486"/><line x1="388.9" y1="437.6" x2="399.9" y2="437.6"/><line x1="388.9" y1="486" x2="399.9" y2="486"/><line x1="382.4" y1="461.8" x2="406.4" y2="461.8"/></g><circle cx="394.4" cy="461.8" r="3.8" fill="#fff" stroke="#000" stroke-width="1.5"/>
<g stroke="#000" stroke-width="2" fill="none"><line x1="464.7" y1="388.1" x2="464.7" y2="421.5"/><line x1="459.2" y1="388.1" x2="470.2" y2="388.1"/><line x1="459.2" y1="421.5" x2="470.2" y2="421.5"/><line x1="452.7" y1="405" x2="476.7" y2="405"/></g><circle cx="464.7" cy="405" r="3.8" fill="#fff" stroke="#000" stroke-width="1.5"/>
<g stroke="#000" stroke-width="2" fill="none"><line x1="511.2" y1="496.5" x2="511.2" y2="535.4"/><line x1="505.7" y1="496.5" x2="516.7" y2="496.5"/><line x1="505.7" y1="535.4" x2="516.7" y2="535.4"/><line x1="499.2" y1="515.7" x2="523.2" y2="515.7"/></g><circle cx="511.2" cy="515.7" r="3.8" fill="#fff" stroke="#000" stroke-width="1.5"/>
<g stroke="#000" stroke-width="2" fill="none"><line x1="581.1" y1="542.8" x2="581.1" y2="599.2"/><line x1="575.6" y1="542.8" x2="586.6" y2="542.8"/><line x1="575.6" y1="599.2" x2="586.6" y2="599.2"/><line x1="569.1" y1="570.9" x2="593.1" y2="570.9"/></g><circle cx="581.1" cy="570.9" r="3.8" fill="#fff" stroke="#000" stroke-width="1.5"/>
<g stroke="#000" stroke-width="2" fill="none"><line x1="627.9" y1="679.9" x2="627.9" y2="715.4"/><line x1="622.4" y1="679.9" x2="633.4" y2="679.9"/><line x1="622.4" y1="715.4" x2="633.4" y2="715.4"/><line x1="615.9" y1="697.8" x2="639.9" y2="697.8"/></g><circle cx="627.9" cy="697.8" r="3.8" fill="#fff" stroke="#000" stroke-width="1.5"/>
<g stroke="#000" stroke-width="2" fill="none"><line x1="697.8" y1="556.3" x2="697.8" y2="599.8"/><line x1="692.3" y1="556.3" x2="703.3" y2="556.3"/><line x1="692.3" y1="599.8" x2="703.3" y2="599.8"/><line x1="685.8" y1="577.8" x2="709.8" y2="577.8"/></g><circle cx="697.8" cy="577.8" r="3.8" fill="#fff" stroke="#000" stroke-width="1.5"/>
<g stroke="#000" stroke-width="2" fill="none"><line x1="744.3" y1="665.3" x2="744.3" y2="705.6"/><line x1="738.8" y1="665.3" x2="749.8" y2="665.3"/><line x1="738.8" y1="705.6" x2="749.8" y2="705.6"/><line x1="732.3" y1="685.6" x2="756.3" y2="685.6"/></g><circle cx="744.3" cy="685.6" r="3.8" fill="#fff" stroke="#000" stroke-width="1.5"/>
<g stroke="#000" stroke-width="2" fill="none"><line x1="814.4" y1="542.8" x2="814.4" y2="583.4"/><line x1="808.9" y1="542.8" x2="819.9" y2="542.8"/><line x1="808.9" y1="583.4" x2="819.9" y2="583.4"/><line x1="802.4" y1="563.8" x2="826.4" y2="563.8"/></g><circle cx="814.4" cy="563.8" r="3.8" fill="#fff" stroke="#000" stroke-width="1.5"/>
<g stroke="#000" stroke-width="2" fill="none"><line x1="861.1" y1="639.6" x2="861.1" y2="681.9"/><line x1="855.6" y1="639.6" x2="866.6" y2="639.6"/><line x1="855.6" y1="681.9" x2="866.6" y2="681.9"/><line x1="849.1" y1="661.2" x2="873.1" y2="661.2"/></g><circle cx="861.1" cy="661.2" r="3.8" fill="#fff" stroke="#000" stroke-width="1.5"/>
<path d="M185.2,9.3 L185.2,805.1 L907.5,805.1" fill="none" stroke="#000" stroke-width="2.2"/>
<line x1="179.2" y1="783.4" x2="185.2" y2="783.4" stroke="#000" stroke-width="2"/>
<text x="174.7" y="800.8" font-size="40" text-anchor="end" font-family="Liberation Sans, sans-serif">0</text>
<line x1="179.2" y1="633.0" x2="185.2" y2="633.0" stroke="#000" stroke-width="2"/>
<text x="174.7" y="650.4" font-size="40" text-anchor="end" font-family="Liberation Sans, sans-serif">1</text>
<line x1="179.2" y1="482.6" x2="185.2" y2="482.6" stroke="#000" stroke-width="2"/>
<text x="174.7" y="500.0" font-size="40" text-anchor="end" font-family="Liberation Sans, sans-serif">2</text>
<line x1="179.2" y1="332.1" x2="185.2" y2="332.1" stroke="#000" stroke-width="2"/>
<text x="174.7" y="349.5" font-size="40" text-anchor="end" font-family="Liberation Sans, sans-serif">3</text>
<line x1="179.2" y1="181.7" x2="185.2" y2="181.7" stroke="#000" stroke-width="2"/>
<text x="174.7" y="199.1" font-size="40" text-anchor="end" font-family="Liberation Sans, sans-serif">4</text>
<line x1="179.2" y1="31.3" x2="185.2" y2="31.3" stroke="#000" stroke-width="2"/>
<text x="174.7" y="48.7" font-size="40" text-anchor="end" font-family="Liberation Sans, sans-serif">5</text>
<line x1="254.7" y1="805.1" x2="254.7" y2="811.6" stroke="#000" stroke-width="2"/>
<line x1="371.4" y1="805.1" x2="371.4" y2="811.6" stroke="#000" stroke-width="2"/>
<line x1="488.1" y1="805.1" x2="488.1" y2="811.6" stroke="#000" stroke-width="2"/>
<line x1="604.8" y1="805.1" x2="604.8" y2="811.6" stroke="#000" stroke-width="2"/>
<line x1="721.5" y1="805.1" x2="721.5" y2="811.6" stroke="#000" stroke-width="2"/>
<line x1="838.2" y1="805.1" x2="838.2" y2="811.6" stroke="#000" stroke-width="2"/>
<path d="M231.2,70.5 L231.2,59.5 L278.0,59.5 L278.0,70.5" fill="none" stroke="#000" stroke-width="2"/><path d="M246.80,49.20L246.80,43.00M246.80,49.20L240.90,47.28M246.80,49.20L243.16,54.22M246.80,49.20L250.44,54.22M246.80,49.20L252.70,47.28M262.40,49.20L262.40,43.00M262.40,49.20L256.50,47.28M262.40,49.20L258.76,54.22M262.40,49.20L266.04,54.22M262.40,49.20L268.30,47.28" stroke="#000" stroke-width="3.0" fill="none"/>
<path d="M347.3,157.8 L347.3,146.7 L394.7,146.7 L394.7,157.8" fill="none" stroke="#000" stroke-width="2"/><path d="M355.40,136.40L355.40,130.20M355.40,136.40L349.50,134.48M355.40,136.40L351.76,141.42M355.40,136.40L359.04,141.42M355.40,136.40L361.30,134.48M371.00,136.40L371.00,130.20M371.00,136.40L365.10,134.48M371.00,136.40L367.36,141.42M371.00,136.40L374.64,141.42M371.00,136.40L376.90,134.48M386.60,136.40L386.60,130.20M386.60,136.40L380.70,134.48M386.60,136.40L382.96,141.42M386.60,136.40L390.24,141.42M386.60,136.40L392.50,134.48" stroke="#000" stroke-width="3.0" fill="none"/>
<path d="M464.2,199.9 L464.2,188.1 L511.2,188.1 L511.2,199.9" fill="none" stroke="#000" stroke-width="2"/><path d="M472.10,177.80L472.10,171.60M472.10,177.80L466.20,175.88M472.10,177.80L468.46,182.82M472.10,177.80L475.74,182.82M472.10,177.80L478.00,175.88M487.70,177.80L487.70,171.60M487.70,177.80L481.80,175.88M487.70,177.80L484.06,182.82M487.70,177.80L491.34,182.82M487.70,177.80L493.60,175.88M503.30,177.80L503.30,171.60M503.30,177.80L497.40,175.88M503.30,177.80L499.66,182.82M503.30,177.80L506.94,182.82M503.30,177.80L509.20,175.88" stroke="#000" stroke-width="3.0" fill="none"/>
<path d="M580.6,357.9 L580.6,346.3 L627.7,346.3 L627.7,357.9" fill="none" stroke="#000" stroke-width="2"/><path d="M588.55,336.00L588.55,329.80M588.55,336.00L582.65,334.08M588.55,336.00L584.91,341.02M588.55,336.00L592.19,341.02M588.55,336.00L594.45,334.08M604.15,336.00L604.15,329.80M604.15,336.00L598.25,334.08M604.15,336.00L600.51,341.02M604.15,336.00L607.79,341.02M604.15,336.00L610.05,334.08M619.75,336.00L619.75,329.80M619.75,336.00L613.85,334.08M619.75,336.00L616.11,341.02M619.75,336.00L623.39,341.02M619.75,336.00L625.65,334.08" stroke="#000" stroke-width="3.0" fill="none"/>
<path d="M697.6,392.1 L697.6,380.3 L744.3,380.3 L744.3,392.1" fill="none" stroke="#000" stroke-width="2"/><path d="M713.15,370.00L713.15,363.80M713.15,370.00L707.25,368.08M713.15,370.00L709.51,375.02M713.15,370.00L716.79,375.02M713.15,370.00L719.05,368.08M728.75,370.00L728.75,363.80M728.75,370.00L722.85,368.08M728.75,370.00L725.11,375.02M728.75,370.00L732.39,375.02M728.75,370.00L734.65,368.08" stroke="#000" stroke-width="3.0" fill="none"/>
<path d="M814.0,402.6 L814.0,391.1 L861.1,391.1 L861.1,402.6" fill="none" stroke="#000" stroke-width="2"/><path d="M829.75,380.80L829.75,374.60M829.75,380.80L823.85,378.88M829.75,380.80L826.11,385.82M829.75,380.80L833.39,385.82M829.75,380.80L835.65,378.88M845.35,380.80L845.35,374.60M845.35,380.80L839.45,378.88M845.35,380.80L841.71,385.82M845.35,380.80L848.99,385.82M845.35,380.80L851.25,378.88" stroke="#000" stroke-width="3.0" fill="none"/>
<text transform="translate(268.9,826.4) rotate(-45)" x="-216.5" y="0.0" font-size="41" font-family="Liberation Sans, sans-serif">Bacteroides</text>
<text transform="translate(382.0,828.3) rotate(-45)" x="-298.6" y="0.0" font-size="41" font-family="Liberation Sans, sans-serif">Parabacteroides</text>
<text transform="translate(496.7,833.3) rotate(-45)" x="-330.5" y="0.0" font-size="41" font-family="Liberation Sans, sans-serif">Lachnoclostridium</text>
<text transform="translate(614.1,828.6) rotate(-45)" x="-155.0" y="0.0" font-size="41" font-family="Liberation Sans, sans-serif">Bilophila</text>
<text transform="translate(734.6,817.9) rotate(-45)" x="-335.1" y="0.0" font-size="41" font-family="Liberation Sans, sans-serif">Lachnospiraceae_</text>
<text transform="translate(734.6,817.9) rotate(-45)" x="-335.1" y="46.0" font-size="41" font-family="Liberation Sans, sans-serif">UCG-004</text>
<text transform="translate(869.8,817.9) rotate(-45)" x="-335.1" y="0.0" font-size="41" font-family="Liberation Sans, sans-serif">Lachnospiraceae_</text>
<text transform="translate(869.8,817.9) rotate(-45)" x="-335.1" y="46.0" font-size="41" font-family="Liberation Sans, sans-serif">ND3007 _group</text>
<rect x="916.35" y="384.54999999999995" width="21.9" height="26.2" fill="#DAA4A7" stroke="#000" stroke-width="2.6"/><circle cx="927.2" cy="397.7" r="6.3" fill="#B31B2D"/><text x="942.5" y="411.7" font-size="40.3" font-family="Liberation Sans, sans-serif">NFPA</text><rect x="916.35" y="415.75" width="21.9" height="26.2" fill="#9BB1CB" stroke="#000" stroke-width="2.6"/><circle cx="927.2" cy="428.90000000000003" r="6.3" fill="#0D438C"/><text x="942.5" y="442.90000000000003" font-size="40.3" font-family="Liberation Sans, sans-serif">HC</text>
<text x="8.5" y="1073.8" font-size="51.5" font-family="Liberation Sans, sans-serif">B</text>
<text transform="translate(117.9,1826.5) rotate(-90)" font-size="46.1" font-family="Liberation Sans, sans-serif">Relative abundance(log10)</text>
<path d="M207.2,1272.7 L204.6,1272.7 C204.6,1274.8 205.0,1280.5 204.7,1285.4 C204.4,1290.3 203.5,1296.7 202.6,1302.3 C201.7,1307.9 200.5,1313.6 199.5,1319.3 C198.5,1325.0 197.4,1330.6 196.5,1336.2 C195.6,1341.8 194.8,1347.5 194.1,1353.1 C193.4,1358.7 193.0,1364.7 192.4,1370.0 C191.8,1375.3 191.1,1379.7 190.7,1385.0 C190.3,1390.3 190.2,1396.2 190.2,1401.9 C190.2,1407.6 190.4,1413.2 190.7,1418.9 C191.0,1424.6 191.4,1430.2 191.9,1435.8 C192.4,1441.4 192.7,1444.2 193.6,1452.7 C194.5,1461.2 196.2,1475.3 197.5,1486.6 C198.8,1497.9 200.3,1509.1 201.2,1520.4 C202.1,1531.7 202.6,1545.6 202.9,1554.3 C203.2,1563.0 202.9,1569.5 202.9,1572.5 L208.9,1572.5 C208.9,1569.5 208.6,1563.0 208.9,1554.3 C209.2,1545.6 209.7,1531.7 210.6,1520.4 C211.5,1509.1 213.0,1497.9 214.3,1486.6 C215.6,1475.3 217.3,1461.2 218.2,1452.7 C219.1,1444.2 219.4,1441.4 219.9,1435.8 C220.4,1430.2 220.8,1424.6 221.1,1418.9 C221.4,1413.2 221.6,1407.6 221.6,1401.9 C221.6,1396.2 221.5,1390.3 221.1,1385.0 C220.7,1379.7 220.0,1375.3 219.4,1370.0 C218.8,1364.7 218.4,1358.7 217.7,1353.1 C217.0,1347.5 216.2,1341.8 215.3,1336.2 C214.4,1330.6 213.3,1325.0 212.3,1319.3 C211.3,1313.6 210.1,1307.9 209.2,1302.3 C208.3,1296.7 207.4,1290.3 207.1,1285.4 C206.8,1280.5 207.2,1274.8 207.2,1272.7 Z" fill="#DAA4A7" stroke="#000" stroke-width="1.7" stroke-linejoin="miter"/>
<path d="M238.8,1203.3 L235.0,1203.3 C235.0,1205.7 235.3,1212.5 235.1,1217.7 C235.0,1222.9 234.6,1228.9 233.9,1234.6 C233.2,1240.2 232.3,1245.9 231.1,1251.6 C229.9,1257.2 228.0,1262.9 226.8,1268.5 C225.6,1274.1 224.6,1279.8 223.8,1285.4 C223.0,1291.0 222.4,1296.7 222.1,1302.3 C221.8,1307.9 221.8,1313.6 222.1,1319.3 C222.4,1325.0 222.9,1330.6 223.8,1336.2 C224.7,1341.8 226.4,1347.5 227.7,1353.1 C229.0,1358.7 230.8,1364.7 231.6,1370.0 C232.4,1375.3 232.3,1379.7 232.4,1385.0 C232.5,1390.3 232.0,1396.2 231.9,1401.9 C231.8,1407.6 231.7,1413.8 231.6,1418.9 C231.5,1424.0 231.3,1430.2 231.2,1432.4 L242.6,1432.4 C242.5,1430.2 242.3,1424.0 242.2,1418.9 C242.1,1413.8 242.0,1407.6 241.9,1401.9 C241.8,1396.2 241.3,1390.3 241.4,1385.0 C241.5,1379.7 241.4,1375.3 242.2,1370.0 C243.0,1364.7 244.8,1358.7 246.1,1353.1 C247.4,1347.5 249.1,1341.8 250.0,1336.2 C250.9,1330.6 251.4,1325.0 251.7,1319.3 C252.0,1313.6 252.0,1307.9 251.7,1302.3 C251.4,1296.7 250.8,1291.0 250.0,1285.4 C249.2,1279.8 248.2,1274.1 247.0,1268.5 C245.8,1262.9 243.9,1257.2 242.7,1251.6 C241.5,1245.9 240.6,1240.2 239.9,1234.6 C239.2,1228.9 238.8,1222.9 238.7,1217.7 C238.5,1212.5 238.8,1205.7 238.8,1203.3 Z" fill="#9BB1CB" stroke="#000" stroke-width="1.7" stroke-linejoin="miter"/>
<path d="M293.4,1249.0 L273.4,1249.0 C273.2,1252.2 272.9,1259.6 272.4,1268.5 C271.9,1277.4 270.8,1291.0 270.3,1302.3 C269.8,1313.6 269.5,1324.9 269.2,1336.2 C268.9,1347.5 268.8,1361.9 268.7,1370.0 C268.6,1378.1 268.5,1376.8 268.5,1385.0 C268.5,1393.2 268.4,1407.6 268.5,1418.9 C268.6,1430.2 268.9,1441.4 269.2,1452.7 C269.5,1464.0 269.8,1475.3 270.2,1486.6 C270.6,1497.9 271.3,1509.1 271.9,1520.4 C272.5,1531.7 273.0,1543.0 273.6,1554.3 C274.2,1565.6 274.9,1577.1 275.3,1588.1 C275.7,1599.0 276.0,1609.0 276.2,1620.0 C276.4,1631.0 276.5,1642.6 276.7,1653.9 C276.9,1665.2 277.2,1676.4 277.2,1687.7 C277.2,1699.0 276.9,1710.3 276.9,1721.6 C276.8,1732.9 276.9,1744.1 276.9,1755.4 C276.9,1766.7 276.8,1778.0 276.9,1789.3 C276.9,1800.6 277.1,1815.5 277.2,1823.1 C277.3,1830.6 277.5,1832.7 277.6,1834.6 L289.2,1834.6 C289.3,1832.7 289.5,1830.6 289.6,1823.1 C289.7,1815.5 289.8,1800.6 289.9,1789.3 C289.9,1778.0 289.9,1766.7 289.9,1755.4 C289.9,1744.1 289.9,1732.9 289.9,1721.6 C289.8,1710.3 289.6,1699.0 289.6,1687.7 C289.6,1676.4 289.9,1665.2 290.1,1653.9 C290.3,1642.6 290.4,1631.0 290.6,1620.0 C290.8,1609.0 291.1,1599.0 291.5,1588.1 C291.9,1577.1 292.6,1565.6 293.2,1554.3 C293.8,1543.0 294.3,1531.7 294.9,1520.4 C295.5,1509.1 296.1,1497.9 296.6,1486.6 C297.0,1475.3 297.3,1464.0 297.6,1452.7 C297.9,1441.4 298.2,1430.2 298.3,1418.9 C298.4,1407.6 298.3,1393.2 298.3,1385.0 C298.3,1376.8 298.2,1378.1 298.1,1370.0 C298.0,1361.9 297.9,1347.5 297.6,1336.2 C297.3,1324.9 297.0,1313.6 296.5,1302.3 C296.0,1291.0 294.9,1277.4 294.4,1268.5 C293.9,1259.6 293.6,1252.2 293.4,1249.0 Z" fill="#DAA4A7" stroke="#000" stroke-width="1.7" stroke-linejoin="miter"/>
<path d="M319.3,1210.9 L308.3,1210.9 C307.7,1214.9 305.8,1225.0 304.7,1234.6 C303.6,1244.2 302.6,1257.2 301.8,1268.5 C301.0,1279.8 300.2,1291.0 299.6,1302.3 C299.0,1313.6 298.6,1324.9 298.4,1336.2 C298.2,1347.5 298.3,1361.9 298.4,1370.0 C298.5,1378.1 298.7,1376.8 299.1,1385.0 C299.6,1393.2 300.4,1407.6 301.1,1418.9 C301.9,1430.2 302.7,1441.4 303.6,1452.7 C304.5,1464.0 305.6,1475.3 306.5,1486.6 C307.4,1497.9 308.0,1509.1 308.7,1520.4 C309.4,1531.7 309.8,1543.0 310.4,1554.3 C311.0,1565.6 312.0,1576.3 312.5,1588.1 C313.0,1599.9 313.3,1606.3 313.4,1625.0 C313.6,1643.7 313.4,1662.5 313.4,1700.0 C313.4,1737.5 313.6,1820.8 313.4,1850.0 C313.3,1879.2 312.4,1867.5 312.3,1875.0 C312.3,1882.5 313.0,1889.8 313.2,1895.0 C313.4,1900.2 313.4,1904.3 313.4,1906.2 L314.2,1906.2 C314.2,1904.3 314.2,1900.2 314.4,1895.0 C314.6,1889.8 315.3,1882.5 315.3,1875.0 C315.2,1867.5 314.3,1879.2 314.2,1850.0 C314.0,1820.8 314.2,1737.5 314.2,1700.0 C314.2,1662.5 314.0,1643.7 314.2,1625.0 C314.3,1606.3 314.6,1599.9 315.1,1588.1 C315.6,1576.3 316.6,1565.6 317.2,1554.3 C317.8,1543.0 318.2,1531.7 318.9,1520.4 C319.6,1509.1 320.2,1497.9 321.1,1486.6 C322.0,1475.3 323.1,1464.0 324.0,1452.7 C324.9,1441.4 325.8,1430.2 326.5,1418.9 C327.2,1407.6 328.1,1393.2 328.5,1385.0 C328.9,1376.8 329.1,1378.1 329.2,1370.0 C329.3,1361.9 329.4,1347.5 329.2,1336.2 C329.0,1324.9 328.6,1313.6 328.0,1302.3 C327.4,1291.0 326.6,1279.8 325.8,1268.5 C325.0,1257.2 324.0,1244.2 322.9,1234.6 C321.8,1225.0 319.9,1214.9 319.3,1210.9 Z" fill="#9BB1CB" stroke="#000" stroke-width="1.7" stroke-linejoin="miter"/>
<path d="M369.5,1389.2 L350.9,1389.2 C350.2,1394.2 347.7,1408.3 346.7,1418.9 C345.7,1429.5 345.4,1441.4 345.0,1452.7 C344.6,1464.0 344.6,1475.3 344.6,1486.6 C344.6,1497.9 344.7,1509.1 345.0,1520.4 C345.3,1531.7 345.8,1543.0 346.4,1554.3 C347.0,1565.6 347.8,1576.3 348.7,1588.1 C349.6,1599.9 350.8,1614.0 351.7,1625.0 C352.6,1636.0 353.2,1643.5 353.8,1653.9 C354.4,1664.4 354.7,1676.4 355.1,1687.7 C355.5,1699.0 355.9,1710.3 356.3,1721.6 C356.7,1732.9 357.2,1744.1 357.5,1755.4 C357.8,1766.7 357.9,1778.0 358.0,1789.3 C358.1,1800.6 358.1,1811.3 358.1,1823.1 C358.1,1834.9 358.1,1846.1 358.0,1860.0 C357.8,1873.9 357.3,1898.8 357.2,1906.5 L363.2,1906.5 C363.1,1898.8 362.6,1873.9 362.4,1860.0 C362.2,1846.1 362.3,1834.9 362.3,1823.1 C362.3,1811.3 362.3,1800.6 362.4,1789.3 C362.5,1778.0 362.6,1766.7 362.9,1755.4 C363.2,1744.1 363.7,1732.9 364.1,1721.6 C364.5,1710.3 364.9,1699.0 365.3,1687.7 C365.7,1676.4 366.0,1664.4 366.6,1653.9 C367.2,1643.5 367.8,1636.0 368.7,1625.0 C369.6,1614.0 370.8,1599.9 371.7,1588.1 C372.6,1576.3 373.4,1565.6 374.0,1554.3 C374.6,1543.0 375.1,1531.7 375.4,1520.4 C375.7,1509.1 375.8,1497.9 375.8,1486.6 C375.8,1475.3 375.8,1464.0 375.4,1452.7 C375.0,1441.4 374.7,1429.5 373.7,1418.9 C372.7,1408.3 370.2,1394.2 369.5,1389.2 Z" fill="#DAA4A7" stroke="#000" stroke-width="1.7" stroke-linejoin="miter"/>
<path d="M393.7,1271.0 L388.1,1271.0 C387.8,1273.4 387.1,1277.4 386.5,1285.4 C385.9,1293.5 385.4,1308.0 384.5,1319.3 C383.6,1330.6 382.4,1342.1 381.4,1353.1 C380.4,1364.0 379.4,1376.9 378.5,1385.0 C377.6,1393.1 376.2,1396.2 375.8,1401.9 C375.3,1407.6 375.6,1413.2 375.8,1418.9 C376.0,1424.6 376.4,1427.3 377.2,1435.8 C378.0,1444.2 379.2,1458.3 380.6,1469.6 C381.9,1480.9 384.0,1492.2 385.3,1503.5 C386.6,1514.8 387.5,1526.1 388.2,1537.4 C388.9,1548.7 389.3,1559.9 389.3,1571.2 C389.3,1582.5 388.5,1597.0 388.2,1605.1 C387.9,1613.2 387.4,1611.9 387.7,1620.0 C388.0,1628.1 389.5,1640.6 390.0,1653.9 C390.5,1667.2 390.5,1665.7 390.5,1700.0 C390.6,1734.3 390.8,1830.0 390.5,1860.0 C390.3,1890.0 389.2,1872.2 388.8,1880.0 C388.4,1887.8 388.2,1902.1 388.1,1906.5 L393.7,1906.5 C393.6,1902.1 393.4,1887.8 393.0,1880.0 C392.6,1872.2 391.5,1890.0 391.2,1860.0 C391.0,1830.0 391.2,1734.3 391.2,1700.0 C391.3,1665.7 391.3,1667.2 391.8,1653.9 C392.3,1640.6 393.8,1628.1 394.1,1620.0 C394.4,1611.9 393.9,1613.2 393.6,1605.1 C393.3,1597.0 392.5,1582.5 392.5,1571.2 C392.5,1559.9 392.9,1548.7 393.6,1537.4 C394.3,1526.1 395.2,1514.8 396.5,1503.5 C397.8,1492.2 399.9,1480.9 401.2,1469.6 C402.5,1458.3 403.8,1444.2 404.6,1435.8 C405.4,1427.3 405.8,1424.6 406.0,1418.9 C406.2,1413.2 406.4,1407.6 406.0,1401.9 C405.6,1396.2 404.2,1393.1 403.3,1385.0 C402.4,1376.9 401.4,1364.0 400.4,1353.1 C399.4,1342.1 398.1,1330.6 397.3,1319.3 C396.4,1308.0 395.9,1293.5 395.3,1285.4 C394.7,1277.4 394.0,1273.4 393.7,1271.0 Z" fill="#9BB1CB" stroke="#000" stroke-width="1.7" stroke-linejoin="miter"/>
<path d="M442.9,1363.6 L431.1,1363.6 C430.3,1367.2 427.5,1378.6 426.3,1385.0 C425.1,1391.4 424.5,1396.2 423.8,1401.9 C423.1,1407.6 422.5,1410.4 422.1,1418.9 C421.7,1427.4 421.3,1441.4 421.3,1452.7 C421.3,1464.0 421.6,1475.3 422.1,1486.6 C422.7,1497.9 423.5,1509.1 424.6,1520.4 C425.7,1531.7 427.6,1543.0 428.9,1554.3 C430.2,1565.6 431.6,1577.1 432.3,1588.1 C433.1,1599.0 433.0,1609.0 433.4,1620.0 C433.8,1631.0 434.0,1642.6 434.5,1653.9 C435.0,1665.2 435.8,1676.7 436.1,1687.7 C436.5,1698.7 436.6,1694.6 436.6,1720.0 C436.7,1745.4 436.9,1815.0 436.6,1840.0 C436.4,1865.0 435.4,1861.7 434.9,1870.0 C434.5,1878.3 434.2,1884.0 434.0,1890.0 C433.8,1896.0 433.7,1903.5 433.6,1906.2 L440.4,1906.2 C440.3,1903.5 440.2,1896.0 440.0,1890.0 C439.8,1884.0 439.5,1878.3 439.1,1870.0 C438.6,1861.7 437.6,1865.0 437.4,1840.0 C437.1,1815.0 437.3,1745.4 437.4,1720.0 C437.4,1694.6 437.5,1698.7 437.9,1687.7 C438.2,1676.7 439.0,1665.2 439.5,1653.9 C440.0,1642.6 440.2,1631.0 440.6,1620.0 C441.0,1609.0 440.9,1599.0 441.7,1588.1 C442.4,1577.1 443.8,1565.6 445.1,1554.3 C446.4,1543.0 448.3,1531.7 449.4,1520.4 C450.5,1509.1 451.3,1497.9 451.9,1486.6 C452.4,1475.3 452.7,1464.0 452.7,1452.7 C452.7,1441.4 452.3,1427.4 451.9,1418.9 C451.5,1410.4 450.9,1407.6 450.2,1401.9 C449.5,1396.2 448.9,1391.4 447.7,1385.0 C446.5,1378.6 443.7,1367.2 442.9,1363.6 Z" fill="#DAA4A7" stroke="#000" stroke-width="1.7" stroke-linejoin="miter"/>
<path d="M469.4,1298.1 L466.2,1298.1 C466.0,1301.6 465.7,1312.9 465.3,1319.3 C464.9,1325.7 464.1,1330.6 463.6,1336.2 C463.1,1341.8 462.9,1347.5 462.4,1353.1 C461.9,1358.7 461.5,1363.8 460.7,1370.0 C459.9,1376.2 458.6,1384.7 457.6,1390.0 C456.6,1395.3 455.4,1397.1 454.6,1401.9 C453.8,1406.7 453.1,1413.2 452.9,1418.9 C452.7,1424.6 452.6,1430.2 453.4,1435.8 C454.2,1441.4 455.9,1447.1 457.6,1452.7 C459.3,1458.3 462.0,1463.9 463.6,1469.6 C465.2,1475.2 466.3,1481.5 466.9,1486.6 C467.6,1491.7 467.4,1466.1 467.4,1500.0 C467.5,1533.9 467.6,1655.0 467.4,1690.0 C467.3,1725.0 466.6,1703.3 466.6,1710.0 C466.6,1716.7 467.3,1708.3 467.4,1730.0 C467.6,1751.7 467.6,1816.7 467.4,1840.0 C467.3,1863.3 466.5,1859.0 466.3,1870.0 C466.1,1881.0 466.2,1900.2 466.2,1906.2 L469.4,1906.2 C469.4,1900.2 469.5,1881.0 469.3,1870.0 C469.1,1859.0 468.3,1863.3 468.2,1840.0 C468.0,1816.7 468.0,1751.7 468.2,1730.0 C468.3,1708.3 469.0,1716.7 469.0,1710.0 C469.0,1703.3 468.3,1725.0 468.2,1690.0 C468.0,1655.0 468.1,1533.9 468.2,1500.0 C468.2,1466.1 468.0,1491.7 468.7,1486.6 C469.3,1481.5 470.4,1475.2 472.0,1469.6 C473.6,1463.9 476.3,1458.3 478.0,1452.7 C479.7,1447.1 481.4,1441.4 482.2,1435.8 C483.0,1430.2 482.9,1424.6 482.7,1418.9 C482.5,1413.2 481.8,1406.7 481.0,1401.9 C480.2,1397.1 479.0,1395.3 478.0,1390.0 C477.0,1384.7 475.7,1376.2 474.9,1370.0 C474.1,1363.8 473.7,1358.7 473.2,1353.1 C472.7,1347.5 472.5,1341.8 472.0,1336.2 C471.5,1330.6 470.7,1325.7 470.3,1319.3 C469.9,1312.9 469.6,1301.6 469.4,1298.1 Z" fill="#9BB1CB" stroke="#000" stroke-width="1.7" stroke-linejoin="miter"/>
<path d="M515.3,1332.8 L512.7,1332.8 C512.7,1341.5 513.0,1370.7 513.1,1385.0 C513.2,1399.3 513.7,1410.4 513.1,1418.9 C512.6,1427.4 511.2,1430.2 509.8,1435.8 C508.4,1441.4 506.4,1447.1 505.0,1452.7 C503.6,1458.3 502.3,1463.9 501.3,1469.6 C500.3,1475.2 499.6,1480.9 499.1,1486.6 C498.6,1492.2 498.2,1497.9 498.3,1503.5 C498.4,1509.1 499.1,1514.8 499.6,1520.4 C500.1,1526.0 500.5,1531.7 501.3,1537.3 C502.1,1542.9 503.1,1548.6 504.2,1554.3 C505.2,1560.0 506.6,1565.6 507.6,1571.2 C508.6,1576.8 509.6,1582.5 510.4,1588.1 C511.2,1593.7 511.9,1598.8 512.4,1605.0 C512.9,1611.2 513.2,1574.8 513.4,1625.0 C513.6,1675.2 513.4,1859.3 513.4,1906.2 L514.6,1906.2 C514.6,1859.3 514.4,1675.2 514.6,1625.0 C514.8,1574.8 515.1,1611.2 515.6,1605.0 C516.1,1598.8 516.8,1593.7 517.6,1588.1 C518.4,1582.5 519.4,1576.8 520.4,1571.2 C521.4,1565.6 522.8,1560.0 523.8,1554.3 C524.8,1548.6 525.9,1542.9 526.7,1537.3 C527.5,1531.7 527.9,1526.0 528.4,1520.4 C528.9,1514.8 529.6,1509.1 529.7,1503.5 C529.8,1497.9 529.4,1492.2 528.9,1486.6 C528.4,1480.9 527.7,1475.2 526.7,1469.6 C525.7,1463.9 524.4,1458.3 523.0,1452.7 C521.6,1447.1 519.6,1441.4 518.2,1435.8 C516.8,1430.2 515.4,1427.4 514.9,1418.9 C514.3,1410.4 514.8,1399.3 514.9,1385.0 C515.0,1370.7 515.3,1341.5 515.3,1332.8 Z" fill="#DAA4A7" stroke="#000" stroke-width="1.7" stroke-linejoin="miter"/>
<path d="M552.8,1346.7 L536.8,1346.7 C536.2,1350.6 534.0,1363.6 533.0,1370.0 C532.0,1376.4 531.4,1376.8 530.8,1385.0 C530.2,1393.2 529.8,1407.6 529.6,1418.9 C529.4,1430.2 529.5,1441.4 529.6,1452.7 C529.7,1464.0 529.7,1475.3 530.1,1486.6 C530.5,1497.9 530.8,1509.1 531.8,1520.4 C532.8,1531.7 534.8,1543.0 536.3,1554.3 C537.8,1565.6 539.4,1576.3 540.6,1588.1 C541.8,1599.9 542.9,1613.0 543.5,1625.0 C544.0,1637.0 544.0,1649.2 543.8,1660.0 C543.6,1670.8 542.5,1673.3 542.3,1690.0 C542.1,1706.7 542.0,1743.3 542.3,1760.0 C542.6,1776.7 544.0,1765.6 544.2,1790.0 C544.5,1814.4 543.8,1886.8 543.8,1906.2 L545.8,1906.2 C545.8,1886.8 545.1,1814.4 545.4,1790.0 C545.6,1765.6 547.0,1776.7 547.3,1760.0 C547.6,1743.3 547.5,1706.7 547.3,1690.0 C547.1,1673.3 546.0,1670.8 545.8,1660.0 C545.6,1649.2 545.6,1637.0 546.1,1625.0 C546.7,1613.0 547.8,1599.9 549.0,1588.1 C550.2,1576.3 551.8,1565.6 553.3,1554.3 C554.8,1543.0 556.8,1531.7 557.8,1520.4 C558.8,1509.1 559.1,1497.9 559.5,1486.6 C559.9,1475.3 559.9,1464.0 560.0,1452.7 C560.1,1441.4 560.2,1430.2 560.0,1418.9 C559.8,1407.6 559.4,1393.2 558.8,1385.0 C558.2,1376.8 557.6,1376.4 556.6,1370.0 C555.6,1363.6 553.4,1350.6 552.8,1346.7 Z" fill="#9BB1CB" stroke="#000" stroke-width="1.7" stroke-linejoin="miter"/>
<path d="M592.8,1412.4 L589.2,1412.4 C589.2,1416.3 589.3,1426.3 588.9,1435.8 C588.6,1445.3 587.3,1461.1 587.1,1469.6 C586.9,1478.1 587.8,1480.9 588.0,1486.6 C588.2,1492.2 588.8,1497.9 588.3,1503.5 C587.8,1509.1 586.3,1514.8 584.9,1520.4 C583.5,1526.0 581.1,1531.7 579.8,1537.3 C578.5,1542.9 577.8,1548.6 577.0,1554.3 C576.2,1560.0 575.6,1565.6 575.3,1571.2 C575.0,1576.8 575.0,1582.5 575.3,1588.1 C575.6,1593.7 576.0,1599.3 577.0,1605.0 C578.0,1610.7 579.8,1616.7 581.0,1622.0 C582.2,1627.3 583.2,1631.6 584.2,1636.9 C585.2,1642.2 586.4,1648.2 587.2,1653.9 C588.0,1659.6 588.6,1664.8 589.1,1670.8 C589.6,1676.8 590.2,1675.1 590.4,1690.0 C590.6,1704.9 590.6,1745.3 590.4,1760.0 C590.2,1774.7 589.4,1771.3 589.4,1778.0 C589.4,1784.7 590.3,1778.6 590.4,1800.0 C590.5,1821.4 590.0,1888.5 590.0,1906.2 L592.0,1906.2 C592.0,1888.5 591.5,1821.4 591.6,1800.0 C591.7,1778.6 592.6,1784.7 592.6,1778.0 C592.6,1771.3 591.8,1774.7 591.6,1760.0 C591.4,1745.3 591.4,1704.9 591.6,1690.0 C591.8,1675.1 592.4,1676.8 592.9,1670.8 C593.4,1664.8 594.0,1659.6 594.8,1653.9 C595.6,1648.2 596.8,1642.2 597.8,1636.9 C598.8,1631.6 599.8,1627.3 601.0,1622.0 C602.2,1616.7 604.0,1610.7 605.0,1605.0 C606.0,1599.3 606.4,1593.7 606.7,1588.1 C607.0,1582.5 607.0,1576.8 606.7,1571.2 C606.4,1565.6 605.8,1560.0 605.0,1554.3 C604.2,1548.6 603.5,1542.9 602.2,1537.3 C600.9,1531.7 598.5,1526.0 597.1,1520.4 C595.7,1514.8 594.2,1509.1 593.7,1503.5 C593.2,1497.9 593.8,1492.2 594.0,1486.6 C594.2,1480.9 595.1,1478.1 594.9,1469.6 C594.7,1461.1 593.4,1445.3 593.1,1435.8 C592.7,1426.3 592.8,1416.3 592.8,1412.4 Z" fill="#DAA4A7" stroke="#000" stroke-width="1.7" stroke-linejoin="miter"/>
<path d="M622.7,1349.7 L620.9,1349.7 C620.5,1353.1 619.1,1364.1 618.3,1370.0 C617.5,1375.9 616.7,1376.8 615.9,1385.0 C615.1,1393.2 614.1,1407.6 613.3,1418.9 C612.5,1430.2 612.0,1441.4 611.3,1452.7 C610.6,1464.0 609.8,1475.3 609.1,1486.6 C608.4,1497.9 607.4,1509.1 606.9,1520.4 C606.4,1531.7 606.0,1543.0 606.2,1554.3 C606.4,1565.6 607.2,1576.8 608.3,1588.1 C609.4,1599.4 611.5,1613.9 612.6,1622.0 C613.7,1630.1 614.3,1631.6 615.0,1636.9 C615.7,1642.2 616.1,1648.2 616.7,1653.9 C617.3,1659.6 618.2,1665.2 618.8,1670.8 C619.4,1676.4 620.1,1679.5 620.5,1687.7 C620.9,1695.9 621.2,1698.7 621.2,1720.0 C621.2,1741.3 620.6,1799.5 620.5,1815.4 L623.1,1815.4 C623.0,1799.5 622.4,1741.3 622.4,1720.0 C622.4,1698.7 622.7,1695.9 623.1,1687.7 C623.5,1679.5 624.2,1676.4 624.8,1670.8 C625.4,1665.2 626.3,1659.6 626.9,1653.9 C627.5,1648.2 627.9,1642.2 628.6,1636.9 C629.3,1631.6 629.9,1630.1 631.0,1622.0 C632.1,1613.9 634.2,1599.4 635.3,1588.1 C636.4,1576.8 637.2,1565.6 637.4,1554.3 C637.6,1543.0 637.2,1531.7 636.7,1520.4 C636.2,1509.1 635.2,1497.9 634.5,1486.6 C633.8,1475.3 633.0,1464.0 632.3,1452.7 C631.6,1441.4 631.1,1430.2 630.3,1418.9 C629.5,1407.6 628.5,1393.2 627.7,1385.0 C626.9,1376.8 626.1,1375.9 625.3,1370.0 C624.5,1364.1 623.1,1353.1 622.7,1349.7 Z" fill="#9BB1CB" stroke="#000" stroke-width="1.7" stroke-linejoin="miter"/>
<path d="M676.0,1438.6 L660.0,1438.6 C659.5,1442.7 658.0,1454.5 657.3,1463.1 C656.6,1471.7 656.1,1479.9 655.6,1490.0 C655.1,1500.1 654.4,1512.6 654.0,1523.9 C653.6,1535.2 653.3,1546.4 653.1,1557.7 C652.9,1569.0 652.8,1580.3 652.8,1591.6 C652.8,1602.9 652.9,1614.1 653.1,1625.4 C653.3,1636.7 653.7,1648.0 654.0,1659.3 C654.3,1670.6 654.5,1683.8 654.8,1693.1 C655.1,1702.4 655.7,1708.2 656.0,1715.0 C656.3,1721.8 656.5,1725.1 656.8,1733.9 C657.1,1742.7 657.7,1756.4 657.8,1767.7 C657.9,1779.0 657.6,1790.3 657.3,1801.6 C657.0,1812.9 656.6,1824.1 656.2,1835.4 C655.8,1846.7 655.3,1858.0 655.1,1869.3 C654.9,1880.6 654.9,1896.9 654.8,1903.1 C654.7,1909.3 654.6,1905.9 654.6,1906.5 L681.4,1906.5 C681.4,1905.9 681.3,1909.3 681.2,1903.1 C681.1,1896.9 681.1,1880.6 680.9,1869.3 C680.7,1858.0 680.2,1846.7 679.8,1835.4 C679.4,1824.1 679.0,1812.9 678.7,1801.6 C678.4,1790.3 678.1,1779.0 678.2,1767.7 C678.3,1756.4 678.9,1742.7 679.2,1733.9 C679.5,1725.1 679.7,1721.8 680.0,1715.0 C680.3,1708.2 680.9,1702.4 681.2,1693.1 C681.5,1683.8 681.7,1670.6 682.0,1659.3 C682.3,1648.0 682.7,1636.7 682.9,1625.4 C683.1,1614.1 683.2,1602.9 683.2,1591.6 C683.2,1580.3 683.1,1569.0 682.9,1557.7 C682.7,1546.4 682.4,1535.2 682.0,1523.9 C681.6,1512.6 680.9,1500.1 680.4,1490.0 C679.9,1479.9 679.4,1471.7 678.7,1463.1 C678.0,1454.5 676.5,1442.7 676.0,1438.6 Z" fill="#DAA4A7" stroke="#000" stroke-width="1.7" stroke-linejoin="miter"/>
<path d="M704.7,1345.0 L692.9,1345.0 C692.3,1350.6 690.4,1367.3 689.5,1378.5 C688.6,1389.7 688.0,1401.0 687.3,1412.3 C686.6,1423.6 685.9,1434.9 685.3,1446.2 C684.7,1457.5 684.2,1472.7 683.9,1480.0 C683.6,1487.3 683.4,1485.5 683.6,1490.0 C683.8,1494.5 684.4,1501.2 684.9,1506.9 C685.4,1512.6 685.6,1515.4 686.6,1523.9 C687.6,1532.4 689.4,1546.4 690.7,1557.7 C691.9,1569.0 693.0,1580.3 694.1,1591.6 C695.2,1602.9 696.3,1614.1 697.0,1625.4 C697.8,1636.7 698.2,1630.2 698.4,1659.3 C698.7,1688.4 698.6,1771.5 698.4,1800.0 C698.3,1828.5 697.7,1818.3 697.3,1830.0 C696.9,1841.7 696.3,1857.2 696.0,1870.0 C695.7,1882.8 695.8,1900.4 695.8,1906.5 L701.8,1906.5 C701.8,1900.4 701.9,1882.8 701.6,1870.0 C701.3,1857.2 700.7,1841.7 700.3,1830.0 C699.9,1818.3 699.3,1828.5 699.1,1800.0 C699.0,1771.5 698.9,1688.4 699.1,1659.3 C699.4,1630.2 699.8,1636.7 700.6,1625.4 C701.3,1614.1 702.4,1602.9 703.5,1591.6 C704.6,1580.3 705.6,1569.0 706.9,1557.7 C708.1,1546.4 710.0,1532.4 711.0,1523.9 C712.0,1515.4 712.2,1512.6 712.7,1506.9 C713.2,1501.2 713.8,1494.5 714.0,1490.0 C714.2,1485.5 714.0,1487.3 713.7,1480.0 C713.4,1472.7 712.9,1457.5 712.3,1446.2 C711.7,1434.9 711.0,1423.6 710.3,1412.3 C709.6,1401.0 709.0,1389.7 708.1,1378.5 C707.2,1367.3 705.3,1350.6 704.7,1345.0 Z" fill="#9BB1CB" stroke="#000" stroke-width="1.7" stroke-linejoin="miter"/>
<path d="M748.0,1525.5 L742.0,1525.5 C741.9,1530.9 741.4,1546.7 741.1,1557.7 C740.8,1568.7 740.7,1580.3 740.3,1591.6 C739.9,1602.9 739.2,1614.1 738.6,1625.4 C738.0,1636.7 737.0,1648.0 736.4,1659.3 C735.8,1670.6 735.3,1680.7 734.7,1693.1 C734.1,1705.5 733.4,1721.5 732.6,1733.9 C731.8,1746.3 730.7,1759.2 730.1,1767.7 C729.5,1776.2 729.0,1778.9 728.9,1784.6 C728.8,1790.2 728.7,1793.1 729.3,1801.6 C729.9,1810.1 731.3,1824.1 732.6,1835.4 C733.9,1846.7 735.9,1860.8 736.9,1869.3 C737.9,1877.8 738.3,1880.0 738.6,1886.2 C738.9,1892.4 738.9,1903.1 738.9,1906.5 L751.1,1906.5 C751.1,1903.1 751.1,1892.4 751.4,1886.2 C751.7,1880.0 752.1,1877.8 753.1,1869.3 C754.1,1860.8 756.1,1846.7 757.4,1835.4 C758.7,1824.1 760.1,1810.1 760.7,1801.6 C761.3,1793.1 761.2,1790.2 761.1,1784.6 C761.0,1778.9 760.5,1776.2 759.9,1767.7 C759.3,1759.2 758.2,1746.3 757.4,1733.9 C756.6,1721.5 755.9,1705.5 755.3,1693.1 C754.7,1680.7 754.2,1670.6 753.6,1659.3 C753.0,1648.0 752.0,1636.7 751.4,1625.4 C750.8,1614.1 750.1,1602.9 749.7,1591.6 C749.3,1580.3 749.2,1568.7 748.9,1557.7 C748.6,1546.7 748.1,1530.9 748.0,1525.5 Z" fill="#DAA4A7" stroke="#000" stroke-width="1.7" stroke-linejoin="miter"/>
<path d="M778.3,1360.7 L773.3,1360.7 C773.4,1367.2 773.7,1372.8 773.7,1400.0 C773.8,1427.2 774.0,1500.4 773.7,1523.9 C773.5,1547.4 772.9,1535.2 772.4,1540.8 C771.9,1546.4 771.3,1552.1 770.7,1557.7 C770.0,1563.3 769.2,1568.9 768.5,1574.6 C767.8,1580.2 767.2,1585.9 766.5,1591.6 C765.8,1597.2 765.2,1602.9 764.5,1608.5 C763.8,1614.1 762.9,1619.8 762.3,1625.4 C761.6,1631.0 761.0,1636.7 760.6,1642.3 C760.2,1647.9 760.1,1653.6 760.1,1659.3 C760.1,1665.0 760.2,1670.6 760.6,1676.2 C761.0,1681.8 761.8,1688.3 762.3,1693.1 C762.8,1697.9 762.9,1698.2 763.3,1705.0 C763.7,1711.8 764.1,1723.5 764.8,1733.9 C765.5,1744.4 766.4,1756.4 767.3,1767.7 C768.1,1779.0 769.3,1790.3 769.9,1801.6 C770.5,1812.9 770.6,1824.1 770.7,1835.4 C770.8,1846.7 770.8,1857.5 770.7,1869.3 C770.6,1881.1 770.1,1900.0 770.0,1906.2 L781.6,1906.2 C781.5,1900.0 781.0,1881.1 780.9,1869.3 C780.8,1857.5 780.8,1846.7 780.9,1835.4 C781.0,1824.1 781.1,1812.9 781.7,1801.6 C782.3,1790.3 783.4,1779.0 784.3,1767.7 C785.1,1756.4 786.1,1744.4 786.8,1733.9 C787.5,1723.5 787.9,1711.8 788.3,1705.0 C788.7,1698.2 788.8,1697.9 789.3,1693.1 C789.8,1688.3 790.6,1681.8 791.0,1676.2 C791.4,1670.6 791.5,1665.0 791.5,1659.3 C791.5,1653.6 791.4,1647.9 791.0,1642.3 C790.6,1636.7 789.9,1631.0 789.3,1625.4 C788.6,1619.8 787.8,1614.1 787.1,1608.5 C786.4,1602.9 785.8,1597.2 785.1,1591.6 C784.4,1585.9 783.8,1580.2 783.1,1574.6 C782.4,1568.9 781.5,1563.3 780.9,1557.7 C780.2,1552.1 779.7,1546.4 779.2,1540.8 C778.7,1535.2 778.1,1547.4 777.9,1523.9 C777.6,1500.4 777.8,1427.2 777.9,1400.0 C777.9,1372.8 778.2,1367.2 778.3,1360.7 Z" fill="#9BB1CB" stroke="#000" stroke-width="1.7" stroke-linejoin="miter"/>
<path d="M826.7,1511.7 L817.3,1511.7 C817.1,1516.5 816.3,1530.3 815.9,1540.8 C815.5,1551.3 815.0,1563.3 814.7,1574.6 C814.4,1585.9 814.3,1597.2 814.2,1608.5 C814.1,1619.8 814.1,1631.0 814.2,1642.3 C814.3,1653.6 814.6,1664.9 814.7,1676.2 C814.8,1687.5 814.8,1700.4 814.7,1710.0 C814.6,1719.6 814.5,1724.3 814.2,1733.9 C813.9,1743.5 813.6,1756.4 813.0,1767.7 C812.4,1779.0 811.5,1790.3 810.8,1801.6 C810.1,1812.9 809.4,1824.1 808.8,1835.4 C808.2,1846.7 807.7,1858.0 807.4,1869.3 C807.1,1880.6 806.9,1896.9 806.8,1903.1 C806.7,1909.3 806.6,1905.9 806.6,1906.5 L837.4,1906.5 C837.4,1905.9 837.3,1909.3 837.2,1903.1 C837.1,1896.9 836.9,1880.6 836.6,1869.3 C836.3,1858.0 835.8,1846.7 835.2,1835.4 C834.6,1824.1 833.9,1812.9 833.2,1801.6 C832.5,1790.3 831.6,1779.0 831.0,1767.7 C830.4,1756.4 830.1,1743.5 829.8,1733.9 C829.5,1724.3 829.4,1719.6 829.3,1710.0 C829.2,1700.4 829.2,1687.5 829.3,1676.2 C829.4,1664.9 829.7,1653.6 829.8,1642.3 C829.9,1631.0 829.9,1619.8 829.8,1608.5 C829.7,1597.2 829.6,1585.9 829.3,1574.6 C829.0,1563.3 828.5,1551.3 828.1,1540.8 C827.7,1530.3 826.9,1516.5 826.7,1511.7 Z" fill="#DAA4A7" stroke="#000" stroke-width="1.7" stroke-linejoin="miter"/>
<path d="M860.4,1426.7 L845.2,1426.7 C844.7,1430.0 843.3,1437.3 842.3,1446.2 C841.2,1455.1 839.7,1472.7 838.9,1480.0 C838.1,1487.3 837.9,1482.7 837.6,1490.0 C837.3,1497.3 837.3,1512.6 837.2,1523.9 C837.1,1535.2 837.0,1546.4 837.2,1557.7 C837.4,1569.0 837.8,1580.3 838.4,1591.6 C839.0,1602.9 840.4,1614.1 841.0,1625.4 C841.6,1636.7 842.0,1648.0 842.3,1659.3 C842.6,1670.6 842.8,1681.3 843.0,1693.1 C843.2,1704.9 843.3,1717.6 843.5,1730.0 C843.7,1742.4 844.2,1738.3 844.3,1767.7 C844.4,1797.1 844.2,1883.1 844.2,1906.2 L861.4,1906.2 C861.4,1883.1 861.2,1797.1 861.3,1767.7 C861.4,1738.3 861.9,1742.4 862.1,1730.0 C862.3,1717.6 862.4,1704.9 862.6,1693.1 C862.8,1681.3 863.0,1670.6 863.3,1659.3 C863.6,1648.0 863.9,1636.7 864.6,1625.4 C865.2,1614.1 866.6,1602.9 867.2,1591.6 C867.8,1580.3 868.2,1569.0 868.4,1557.7 C868.6,1546.4 868.5,1535.2 868.4,1523.9 C868.3,1512.6 868.3,1497.3 868.0,1490.0 C867.7,1482.7 867.5,1487.3 866.7,1480.0 C865.9,1472.7 864.3,1455.1 863.3,1446.2 C862.2,1437.3 860.9,1430.0 860.4,1426.7 Z" fill="#9BB1CB" stroke="#000" stroke-width="1.7" stroke-linejoin="miter"/>
<path d="M907.2,1495.5 L890.8,1495.5 C890.4,1500.2 888.9,1513.5 888.2,1523.9 C887.5,1534.3 887.0,1546.4 886.5,1557.7 C886.0,1569.0 885.5,1580.3 885.1,1591.6 C884.7,1602.9 884.5,1614.1 884.3,1625.4 C884.1,1636.7 883.8,1648.0 883.8,1659.3 C883.8,1670.6 883.9,1684.3 884.2,1693.1 C884.5,1701.9 885.0,1705.2 885.8,1712.0 C886.6,1718.8 888.0,1724.6 889.2,1733.9 C890.4,1743.2 892.1,1756.4 893.2,1767.7 C894.4,1779.0 895.5,1790.3 896.1,1801.6 C896.7,1812.9 896.6,1824.1 896.6,1835.4 C896.6,1846.7 896.2,1857.5 896.1,1869.3 C896.0,1881.1 895.8,1900.3 895.8,1906.5 L902.2,1906.5 C902.2,1900.3 902.0,1881.1 901.9,1869.3 C901.8,1857.5 901.4,1846.7 901.4,1835.4 C901.4,1824.1 901.3,1812.9 901.9,1801.6 C902.5,1790.3 903.6,1779.0 904.8,1767.7 C905.9,1756.4 907.6,1743.2 908.8,1733.9 C910.0,1724.6 911.4,1718.8 912.2,1712.0 C913.0,1705.2 913.5,1701.9 913.8,1693.1 C914.1,1684.3 914.2,1670.6 914.2,1659.3 C914.2,1648.0 913.9,1636.7 913.7,1625.4 C913.5,1614.1 913.3,1602.9 912.9,1591.6 C912.5,1580.3 912.0,1569.0 911.5,1557.7 C911.0,1546.4 910.5,1534.3 909.8,1523.9 C909.1,1513.5 907.6,1500.2 907.2,1495.5 Z" fill="#DAA4A7" stroke="#000" stroke-width="1.7" stroke-linejoin="miter"/>
<path d="M935.9,1412.3 L923.7,1412.3 C923.0,1418.0 921.0,1434.9 919.8,1446.2 C918.6,1457.5 917.2,1471.0 916.4,1480.0 C915.5,1489.0 915.0,1492.7 914.7,1500.0 C914.4,1507.3 914.5,1514.3 914.7,1523.9 C914.9,1533.5 915.3,1546.4 915.9,1557.7 C916.5,1569.0 917.1,1580.3 918.1,1591.6 C919.1,1602.9 920.7,1614.1 922.0,1625.4 C923.3,1636.7 925.0,1648.0 926.1,1659.3 C927.2,1670.6 928.2,1681.3 928.8,1693.1 C929.3,1704.9 929.4,1694.4 929.4,1730.0 C929.5,1765.6 929.2,1877.1 929.2,1906.5 L930.4,1906.5 C930.4,1877.1 930.1,1765.6 930.1,1730.0 C930.2,1694.4 930.3,1704.9 930.8,1693.1 C931.4,1681.3 932.4,1670.6 933.5,1659.3 C934.6,1648.0 936.3,1636.7 937.6,1625.4 C938.9,1614.1 940.5,1602.9 941.5,1591.6 C942.5,1580.3 943.1,1569.0 943.7,1557.7 C944.3,1546.4 944.7,1533.5 944.9,1523.9 C945.1,1514.3 945.2,1507.3 944.9,1500.0 C944.6,1492.7 944.0,1489.0 943.2,1480.0 C942.3,1471.0 941.0,1457.5 939.8,1446.2 C938.6,1434.9 936.5,1418.0 935.9,1412.3 Z" fill="#9BB1CB" stroke="#000" stroke-width="1.7" stroke-linejoin="miter"/>
<path d="M984.0,1544.2 L968.0,1544.2 C967.6,1549.3 966.1,1563.9 965.5,1574.6 C964.9,1585.3 964.6,1597.2 964.3,1608.5 C964.0,1619.8 963.9,1631.0 963.8,1642.3 C963.7,1653.6 963.6,1665.8 963.8,1676.2 C964.0,1686.7 964.4,1695.4 965.0,1705.0 C965.6,1714.6 966.8,1723.5 967.2,1733.9 C967.7,1744.4 967.8,1756.4 967.7,1767.7 C967.6,1779.0 967.3,1790.3 966.7,1801.6 C966.1,1812.9 965.1,1824.1 964.3,1835.4 C963.5,1846.7 962.8,1858.0 962.1,1869.3 C961.5,1880.6 960.7,1896.9 960.4,1903.1 C960.1,1909.3 960.5,1905.9 960.5,1906.5 L991.5,1906.5 C991.5,1905.9 991.9,1909.3 991.6,1903.1 C991.3,1896.9 990.5,1880.6 989.9,1869.3 C989.2,1858.0 988.5,1846.7 987.7,1835.4 C986.9,1824.1 985.9,1812.9 985.3,1801.6 C984.7,1790.3 984.4,1779.0 984.3,1767.7 C984.2,1756.4 984.3,1744.4 984.8,1733.9 C985.2,1723.5 986.4,1714.6 987.0,1705.0 C987.6,1695.4 988.0,1686.7 988.2,1676.2 C988.4,1665.8 988.3,1653.6 988.2,1642.3 C988.1,1631.0 988.0,1619.8 987.7,1608.5 C987.4,1597.2 987.1,1585.3 986.5,1574.6 C985.9,1563.9 984.4,1549.3 984.0,1544.2 Z" fill="#DAA4A7" stroke="#000" stroke-width="1.7" stroke-linejoin="miter"/>
<path d="M1015.7,1418.8 L997.9,1418.8 C997.4,1423.4 996.0,1436.0 995.1,1446.2 C994.2,1456.4 993.1,1471.0 992.6,1480.0 C992.1,1489.0 992.0,1492.7 991.9,1500.0 C991.8,1507.3 991.9,1514.3 991.9,1523.9 C991.9,1533.5 992.0,1546.4 992.2,1557.7 C992.3,1569.0 992.6,1580.3 992.8,1591.6 C993.0,1602.9 993.1,1614.1 993.3,1625.4 C993.5,1636.7 993.6,1648.0 993.9,1659.3 C994.2,1670.6 994.8,1683.8 995.3,1693.1 C995.8,1702.4 996.0,1708.2 996.6,1715.0 C997.2,1721.8 998.0,1725.1 998.7,1733.9 C999.4,1742.7 1000.2,1756.4 1000.7,1767.7 C1001.2,1779.0 1001.6,1778.5 1001.7,1801.6 C1001.8,1824.7 1001.4,1888.8 1001.4,1906.2 L1012.2,1906.2 C1012.1,1888.8 1011.8,1824.7 1011.9,1801.6 C1012.0,1778.5 1012.4,1779.0 1012.9,1767.7 C1013.4,1756.4 1014.2,1742.7 1014.9,1733.9 C1015.6,1725.1 1016.4,1721.8 1017.0,1715.0 C1017.6,1708.2 1017.8,1702.4 1018.3,1693.1 C1018.8,1683.8 1019.4,1670.6 1019.7,1659.3 C1020.0,1648.0 1020.1,1636.7 1020.3,1625.4 C1020.5,1614.1 1020.6,1602.9 1020.8,1591.6 C1021.0,1580.3 1021.2,1569.0 1021.4,1557.7 C1021.5,1546.4 1021.6,1533.5 1021.7,1523.9 C1021.7,1514.3 1021.8,1507.3 1021.7,1500.0 C1021.6,1492.7 1021.5,1489.0 1021.0,1480.0 C1020.5,1471.0 1019.4,1456.4 1018.5,1446.2 C1017.6,1436.0 1016.2,1423.4 1015.7,1418.8 Z" fill="#9BB1CB" stroke="#000" stroke-width="1.7" stroke-linejoin="miter"/>
<path d="M1059.3,1620.0 L1046.7,1620.0 C1046.0,1623.7 1043.8,1632.9 1042.8,1642.3 C1041.8,1651.7 1041.3,1666.6 1040.5,1676.2 C1039.7,1685.8 1038.7,1692.7 1038.2,1700.0 C1037.7,1707.3 1037.1,1713.8 1037.3,1720.0 C1037.5,1726.2 1038.7,1731.3 1039.5,1736.9 C1040.3,1742.5 1041.2,1748.2 1042.0,1753.8 C1042.8,1759.4 1043.5,1765.1 1044.1,1770.8 C1044.7,1776.5 1045.4,1782.1 1045.8,1787.7 C1046.2,1793.3 1046.2,1799.0 1046.2,1804.6 C1046.2,1810.2 1046.0,1815.6 1045.8,1821.5 C1045.6,1827.4 1045.5,1834.9 1045.0,1840.0 C1044.5,1845.1 1043.8,1847.4 1043.0,1852.3 C1042.2,1857.2 1041.0,1863.6 1040.2,1869.3 C1039.5,1875.0 1038.9,1880.0 1038.5,1886.2 C1038.1,1892.4 1038.0,1903.1 1037.9,1906.5 L1068.1,1906.5 C1068.0,1903.1 1067.9,1892.4 1067.5,1886.2 C1067.1,1880.0 1066.5,1875.0 1065.8,1869.3 C1065.0,1863.6 1063.8,1857.2 1063.0,1852.3 C1062.2,1847.4 1061.5,1845.1 1061.0,1840.0 C1060.5,1834.9 1060.4,1827.4 1060.2,1821.5 C1060.0,1815.6 1059.8,1810.2 1059.8,1804.6 C1059.8,1799.0 1059.8,1793.3 1060.2,1787.7 C1060.6,1782.1 1061.3,1776.5 1061.9,1770.8 C1062.5,1765.1 1063.2,1759.4 1064.0,1753.8 C1064.8,1748.2 1065.7,1742.5 1066.5,1736.9 C1067.3,1731.3 1068.5,1726.2 1068.7,1720.0 C1068.9,1713.8 1068.3,1707.3 1067.8,1700.0 C1067.3,1692.7 1066.3,1685.8 1065.5,1676.2 C1064.7,1666.6 1064.2,1651.7 1063.2,1642.3 C1062.2,1632.9 1060.0,1623.7 1059.3,1620.0 Z" fill="#DAA4A7" stroke="#000" stroke-width="1.7" stroke-linejoin="miter"/>
<path d="M1088.0,1532.7 L1079.6,1532.7 C1079.1,1536.9 1077.6,1547.9 1076.4,1557.7 C1075.1,1567.5 1073.2,1580.3 1072.1,1591.6 C1071.0,1602.9 1070.1,1614.1 1069.6,1625.4 C1069.1,1636.7 1069.0,1648.0 1069.2,1659.3 C1069.4,1670.6 1070.3,1683.0 1070.9,1693.1 C1071.5,1703.2 1072.5,1712.7 1073.0,1720.0 C1073.5,1727.3 1073.8,1731.3 1074.2,1736.9 C1074.6,1742.5 1075.0,1748.2 1075.5,1753.8 C1076.0,1759.4 1076.7,1765.1 1077.2,1770.8 C1077.7,1776.5 1078.2,1782.1 1078.5,1787.7 C1078.8,1793.3 1078.9,1795.9 1079.1,1804.6 C1079.3,1813.3 1079.6,1823.1 1079.5,1840.0 C1079.4,1856.9 1078.8,1895.2 1078.7,1906.2 L1088.9,1906.2 C1088.8,1895.2 1088.2,1856.9 1088.1,1840.0 C1088.0,1823.1 1088.3,1813.3 1088.5,1804.6 C1088.7,1795.9 1088.8,1793.3 1089.1,1787.7 C1089.4,1782.1 1089.9,1776.5 1090.4,1770.8 C1090.9,1765.1 1091.6,1759.4 1092.1,1753.8 C1092.6,1748.2 1093.0,1742.5 1093.4,1736.9 C1093.8,1731.3 1094.0,1727.3 1094.6,1720.0 C1095.1,1712.7 1096.1,1703.2 1096.7,1693.1 C1097.3,1683.0 1098.2,1670.6 1098.4,1659.3 C1098.6,1648.0 1098.5,1636.7 1098.0,1625.4 C1097.5,1614.1 1096.6,1602.9 1095.5,1591.6 C1094.4,1580.3 1092.5,1567.5 1091.2,1557.7 C1090.0,1547.9 1088.5,1536.9 1088.0,1532.7 Z" fill="#9BB1CB" stroke="#000" stroke-width="1.7" stroke-linejoin="miter"/>
<path d="M1133.0,1590.9 L1127.0,1590.9 C1127.0,1595.0 1127.1,1605.7 1126.8,1615.4 C1126.5,1625.1 1126.0,1638.0 1125.1,1649.3 C1124.2,1660.6 1122.5,1673.0 1121.2,1683.1 C1119.9,1693.2 1118.5,1701.5 1117.5,1710.0 C1116.5,1718.5 1115.4,1724.3 1114.9,1733.9 C1114.4,1743.5 1114.4,1756.4 1114.4,1767.7 C1114.4,1779.0 1114.6,1790.3 1114.9,1801.6 C1115.2,1812.9 1115.7,1824.1 1116.1,1835.4 C1116.5,1846.7 1116.9,1858.0 1117.3,1869.3 C1117.7,1880.6 1118.1,1896.9 1118.3,1903.1 C1118.5,1909.3 1118.4,1905.9 1118.4,1906.5 L1141.6,1906.5 C1141.6,1905.9 1141.5,1909.3 1141.7,1903.1 C1141.9,1896.9 1142.3,1880.6 1142.7,1869.3 C1143.1,1858.0 1143.5,1846.7 1143.9,1835.4 C1144.3,1824.1 1144.8,1812.9 1145.1,1801.6 C1145.4,1790.3 1145.6,1779.0 1145.6,1767.7 C1145.6,1756.4 1145.6,1743.5 1145.1,1733.9 C1144.6,1724.3 1143.5,1718.5 1142.5,1710.0 C1141.5,1701.5 1140.1,1693.2 1138.8,1683.1 C1137.5,1673.0 1135.8,1660.6 1134.9,1649.3 C1134.0,1638.0 1133.5,1625.1 1133.2,1615.4 C1132.9,1605.7 1133.0,1595.0 1133.0,1590.9 Z" fill="#DAA4A7" stroke="#000" stroke-width="1.7" stroke-linejoin="miter"/>
<path d="M1163.0,1582.4 L1158.6,1582.4 C1158.6,1585.1 1159.1,1593.0 1158.4,1598.5 C1157.8,1604.0 1155.9,1609.8 1154.5,1615.4 C1153.1,1621.0 1151.2,1626.7 1150.0,1632.3 C1148.8,1637.9 1147.8,1643.6 1147.1,1649.3 C1146.4,1655.0 1146.2,1660.6 1146.1,1666.2 C1146.0,1671.8 1146.1,1677.5 1146.6,1683.1 C1147.1,1688.7 1148.1,1694.4 1149.1,1700.0 C1150.1,1705.6 1151.4,1711.2 1152.5,1716.9 C1153.6,1722.6 1154.8,1728.2 1155.6,1733.9 C1156.4,1739.6 1156.5,1739.8 1157.2,1750.8 C1157.9,1761.8 1159.6,1785.1 1159.8,1800.0 C1160.0,1814.9 1158.8,1828.5 1158.4,1840.0 C1158.1,1851.5 1157.8,1858.3 1157.6,1869.3 C1157.4,1880.3 1157.1,1900.0 1157.0,1906.2 L1164.6,1906.2 C1164.5,1900.0 1164.2,1880.3 1164.0,1869.3 C1163.8,1858.3 1163.5,1851.5 1163.2,1840.0 C1162.8,1828.5 1161.6,1814.9 1161.8,1800.0 C1162.0,1785.1 1163.7,1761.8 1164.4,1750.8 C1165.1,1739.8 1165.2,1739.6 1166.0,1733.9 C1166.8,1728.2 1168.0,1722.6 1169.1,1716.9 C1170.2,1711.2 1171.5,1705.6 1172.5,1700.0 C1173.5,1694.4 1174.5,1688.7 1175.0,1683.1 C1175.5,1677.5 1175.6,1671.8 1175.5,1666.2 C1175.4,1660.6 1175.2,1655.0 1174.5,1649.3 C1173.8,1643.6 1172.8,1637.9 1171.6,1632.3 C1170.4,1626.7 1168.5,1621.0 1167.1,1615.4 C1165.7,1609.8 1163.8,1604.0 1163.2,1598.5 C1162.5,1593.0 1163.0,1585.1 1163.0,1582.4 Z" fill="#9BB1CB" stroke="#000" stroke-width="1.7" stroke-linejoin="miter"/>
<path d="M1218.4,1755.5 L1195.6,1755.5 C1195.3,1757.5 1194.3,1760.0 1194.0,1767.7 C1193.7,1775.4 1193.4,1790.3 1193.5,1801.6 C1193.6,1812.9 1194.3,1827.0 1194.8,1835.4 C1195.2,1843.9 1196.2,1846.7 1196.2,1852.3 C1196.2,1857.9 1195.4,1863.6 1194.8,1869.3 C1194.2,1875.0 1193.3,1880.0 1192.8,1886.2 C1192.3,1892.4 1191.8,1903.1 1191.6,1906.5 L1222.4,1906.5 C1222.2,1903.1 1221.7,1892.4 1221.2,1886.2 C1220.7,1880.0 1219.8,1875.0 1219.2,1869.3 C1218.6,1863.6 1217.8,1857.9 1217.8,1852.3 C1217.8,1846.7 1218.8,1843.9 1219.2,1835.4 C1219.7,1827.0 1220.4,1812.9 1220.5,1801.6 C1220.6,1790.3 1220.3,1775.4 1220.0,1767.7 C1219.7,1760.0 1218.7,1757.5 1218.4,1755.5 Z" fill="#DAA4A7" stroke="#000" stroke-width="1.7" stroke-linejoin="miter"/>
<path d="M1242.3,1590.0 L1233.3,1590.0 C1233.0,1594.2 1232.6,1605.5 1231.4,1615.4 C1230.1,1625.3 1227.1,1638.0 1225.8,1649.3 C1224.5,1660.6 1223.9,1671.3 1223.4,1683.1 C1222.9,1694.9 1222.7,1711.5 1222.6,1720.0 C1222.5,1728.5 1222.5,1726.0 1222.7,1733.9 C1222.9,1741.9 1223.5,1756.4 1223.9,1767.7 C1224.3,1779.0 1224.9,1790.3 1225.3,1801.6 C1225.7,1812.9 1226.0,1818.0 1226.1,1835.4 C1226.2,1852.8 1226.0,1894.4 1226.0,1906.2 L1249.6,1906.2 C1249.6,1894.4 1249.4,1852.8 1249.5,1835.4 C1249.6,1818.0 1249.9,1812.9 1250.3,1801.6 C1250.7,1790.3 1251.3,1779.0 1251.7,1767.7 C1252.1,1756.4 1252.7,1741.9 1252.9,1733.9 C1253.1,1726.0 1253.1,1728.5 1253.0,1720.0 C1252.9,1711.5 1252.7,1694.9 1252.2,1683.1 C1251.7,1671.3 1251.1,1660.6 1249.8,1649.3 C1248.5,1638.0 1245.5,1625.3 1244.2,1615.4 C1243.0,1605.5 1242.6,1594.2 1242.3,1590.0 Z" fill="#9BB1CB" stroke="#000" stroke-width="1.7" stroke-linejoin="miter"/>
<g fill="#B31B2D" stroke="#fff" stroke-opacity="0.35" stroke-width="0.9"><circle cx="204.3" cy="1272.2" r="4.4"/><circle cx="198.7" cy="1346.3" r="4.4"/><circle cx="207.2" cy="1347.2" r="4.4"/><circle cx="201.6" cy="1370.9" r="4.4"/><circle cx="208.9" cy="1367.0" r="4.4"/><circle cx="211.7" cy="1388.7" r="4.4"/><circle cx="208.9" cy="1394.3" r="4.4"/><circle cx="211.4" cy="1401.1" r="4.4"/><circle cx="206.0" cy="1402.8" r="4.4"/><circle cx="199.5" cy="1399.4" r="4.4"/><circle cx="196.5" cy="1416.3" r="4.4"/><circle cx="202.1" cy="1428.2" r="4.4"/><circle cx="212.2" cy="1433.7" r="4.4"/><circle cx="198.7" cy="1440.0" r="4.4"/><circle cx="199.9" cy="1448.5" r="4.4"/><circle cx="207.7" cy="1453.6" r="4.4"/><circle cx="212.2" cy="1470.5" r="4.4"/><circle cx="204.6" cy="1485.2" r="4.4"/><circle cx="209.7" cy="1488.6" r="4.4"/><circle cx="211.4" cy="1503.5" r="4.4"/><circle cx="201.2" cy="1534.8" r="4.4"/><circle cx="215.1" cy="1572.0" r="4.4"/></g>
<g fill="#0D438C" stroke="#fff" stroke-opacity="0.35" stroke-width="0.9"><circle cx="228.7" cy="1202.8" r="4.4"/><circle cx="243.5" cy="1223.6" r="4.4"/><circle cx="233.4" cy="1266.8" r="4.4"/><circle cx="241.5" cy="1270.5" r="4.4"/><circle cx="231.7" cy="1276.1" r="4.4"/><circle cx="244.9" cy="1284.1" r="4.4"/><circle cx="234.7" cy="1290.8" r="4.4"/><circle cx="236.8" cy="1294.2" r="4.4"/><circle cx="241.0" cy="1296.9" r="4.4"/><circle cx="233.7" cy="1300.6" r="4.4"/><circle cx="236.8" cy="1308.8" r="4.4"/><circle cx="245.2" cy="1312.8" r="4.4"/><circle cx="244.4" cy="1315.5" r="4.4"/><circle cx="228.7" cy="1317.9" r="4.4"/><circle cx="246.6" cy="1339.9" r="4.4"/><circle cx="229.2" cy="1340.9" r="4.4"/><circle cx="230.3" cy="1346.3" r="4.4"/><circle cx="233.1" cy="1351.4" r="4.4"/><circle cx="238.5" cy="1367.5" r="4.4"/><circle cx="236.8" cy="1370.0" r="4.4"/><circle cx="230.3" cy="1399.9" r="4.4"/><circle cx="241.9" cy="1411.7" r="4.4"/><circle cx="233.1" cy="1423.1" r="4.4"/><circle cx="229.2" cy="1429.3" r="4.4"/><circle cx="234.2" cy="1432.7" r="4.4"/></g>
<g fill="#B31B2D" stroke="#fff" stroke-opacity="0.35" stroke-width="0.9"><circle cx="289.2" cy="1249.0" r="4.4"/><circle cx="286.2" cy="1282.0" r="4.4"/><circle cx="287.2" cy="1288.0" r="4.4"/><circle cx="291.8" cy="1296.4" r="4.4"/><circle cx="292.3" cy="1309.4" r="4.4"/><circle cx="282.5" cy="1325.2" r="4.4"/><circle cx="274.9" cy="1342.6" r="4.4"/><circle cx="279.4" cy="1387.8" r="4.4"/><circle cx="279.4" cy="1404.0" r="4.4"/><circle cx="291.8" cy="1412.4" r="4.4"/><circle cx="276.6" cy="1446.3" r="4.4"/><circle cx="273.7" cy="1456.9" r="4.4"/><circle cx="276.6" cy="1477.2" r="4.4"/><circle cx="293.0" cy="1485.2" r="4.4"/><circle cx="280.4" cy="1518.7" r="4.4"/><circle cx="291.3" cy="1525.8" r="4.4"/><circle cx="279.1" cy="1544.1" r="4.4"/><circle cx="279.9" cy="1603.7" r="4.4"/><circle cx="289.2" cy="1695.3" r="4.4"/><circle cx="281.6" cy="1769.8" r="4.4"/><circle cx="277.4" cy="1788.9" r="4.4"/><circle cx="276.6" cy="1815.5" r="4.4"/><circle cx="292.3" cy="1834.6" r="4.4"/></g>
<g fill="#0D438C" stroke="#fff" stroke-opacity="0.35" stroke-width="0.9"><circle cx="315.5" cy="1210.1" r="4.4"/><circle cx="304.5" cy="1229.6" r="4.4"/><circle cx="306.5" cy="1246.8" r="4.4"/><circle cx="305.8" cy="1278.6" r="4.4"/><circle cx="318.9" cy="1277.8" r="4.4"/><circle cx="315.0" cy="1285.4" r="4.4"/><circle cx="317.7" cy="1288.8" r="4.4"/><circle cx="313.3" cy="1299.3" r="4.4"/><circle cx="318.0" cy="1303.2" r="4.4"/><circle cx="316.3" cy="1308.3" r="4.4"/><circle cx="315.5" cy="1312.8" r="4.4"/><circle cx="320.6" cy="1316.7" r="4.4"/><circle cx="312.1" cy="1360.7" r="4.4"/><circle cx="314.6" cy="1368.4" r="4.4"/><circle cx="304.5" cy="1376.5" r="4.4"/><circle cx="305.3" cy="1393.1" r="4.4"/><circle cx="319.4" cy="1402.8" r="4.4"/><circle cx="316.7" cy="1407.0" r="4.4"/><circle cx="314.6" cy="1410.4" r="4.4"/><circle cx="317.7" cy="1429.9" r="4.4"/><circle cx="305.8" cy="1435.8" r="4.4"/><circle cx="304.5" cy="1439.2" r="4.4"/><circle cx="317.2" cy="1497.1" r="4.4"/><circle cx="317.2" cy="1506.5" r="4.4"/><circle cx="306.5" cy="1508.6" r="4.4"/><circle cx="315.0" cy="1528.9" r="4.4"/><circle cx="317.7" cy="1553.9" r="4.4"/><circle cx="314.3" cy="1906.2" r="4.4"/></g>
<g fill="#B31B2D" stroke="#fff" stroke-opacity="0.35" stroke-width="0.9"><circle cx="360.3" cy="1387.8" r="4.4"/><circle cx="355.6" cy="1394.3" r="4.4"/><circle cx="354.4" cy="1415.1" r="4.4"/><circle cx="357.8" cy="1418.9" r="4.4"/><circle cx="368.5" cy="1419.7" r="4.4"/><circle cx="357.0" cy="1440.0" r="4.4"/><circle cx="354.4" cy="1459.5" r="4.4"/><circle cx="367.4" cy="1496.7" r="4.4"/><circle cx="359.0" cy="1504.3" r="4.4"/><circle cx="362.0" cy="1509.9" r="4.4"/><circle cx="365.4" cy="1512.3" r="4.4"/><circle cx="365.8" cy="1525.1" r="4.4"/><circle cx="360.0" cy="1534.0" r="4.4"/><circle cx="355.3" cy="1542.1" r="4.4"/><circle cx="362.9" cy="1546.6" r="4.4"/><circle cx="352.7" cy="1564.1" r="4.4"/><circle cx="357.8" cy="1575.9" r="4.4"/><circle cx="358.3" cy="1655.2" r="4.4"/><circle cx="350.5" cy="1664.3" r="4.4"/><circle cx="356.6" cy="1680.9" r="4.4"/><circle cx="362.9" cy="1683.0" r="4.4"/><circle cx="355.3" cy="1834.1" r="4.4"/><circle cx="356.1" cy="1906.5" r="4.4"/></g>
<g fill="#0D438C" stroke="#fff" stroke-opacity="0.35" stroke-width="0.9"><circle cx="386.6" cy="1271.0" r="4.4"/><circle cx="387.4" cy="1285.4" r="4.4"/><circle cx="390.5" cy="1321.3" r="4.4"/><circle cx="393.3" cy="1329.4" r="4.4"/><circle cx="388.8" cy="1356.2" r="4.4"/><circle cx="398.9" cy="1356.8" r="4.4"/><circle cx="390.8" cy="1364.6" r="4.4"/><circle cx="390.0" cy="1380.5" r="4.4"/><circle cx="384.9" cy="1405.7" r="4.4"/><circle cx="400.1" cy="1405.0" r="4.4"/><circle cx="394.5" cy="1412.1" r="4.4"/><circle cx="397.6" cy="1421.9" r="4.4"/><circle cx="393.3" cy="1424.3" r="4.4"/><circle cx="390.8" cy="1427.3" r="4.4"/><circle cx="381.5" cy="1429.3" r="4.4"/><circle cx="398.9" cy="1434.9" r="4.4"/><circle cx="384.0" cy="1437.5" r="4.4"/><circle cx="390.8" cy="1443.4" r="4.4"/><circle cx="394.5" cy="1447.3" r="4.4"/><circle cx="399.6" cy="1449.7" r="4.4"/><circle cx="389.1" cy="1471.0" r="4.4"/><circle cx="386.1" cy="1484.5" r="4.4"/><circle cx="397.6" cy="1497.1" r="4.4"/><circle cx="395.0" cy="1512.0" r="4.4"/><circle cx="384.9" cy="1596.2" r="4.4"/><circle cx="389.1" cy="1618.6" r="4.4"/><circle cx="390.0" cy="1623.7" r="4.4"/><circle cx="386.6" cy="1906.5" r="4.4"/></g>
<g fill="#B31B2D" stroke="#fff" stroke-opacity="0.35" stroke-width="0.9"><circle cx="437.3" cy="1363.3" r="4.4"/><circle cx="429.7" cy="1397.2" r="4.4"/><circle cx="440.7" cy="1400.6" r="4.4"/><circle cx="445.8" cy="1406.2" r="4.4"/><circle cx="433.1" cy="1425.6" r="4.4"/><circle cx="430.2" cy="1431.5" r="4.4"/><circle cx="441.5" cy="1434.9" r="4.4"/><circle cx="443.2" cy="1448.0" r="4.4"/><circle cx="440.7" cy="1452.7" r="4.4"/><circle cx="443.2" cy="1456.1" r="4.4"/><circle cx="427.5" cy="1470.5" r="4.4"/><circle cx="444.1" cy="1473.4" r="4.4"/><circle cx="446.1" cy="1488.6" r="4.4"/><circle cx="441.5" cy="1515.3" r="4.4"/><circle cx="431.9" cy="1528.9" r="4.4"/><circle cx="437.0" cy="1530.2" r="4.4"/><circle cx="430.2" cy="1555.1" r="4.4"/><circle cx="437.0" cy="1574.9" r="4.4"/><circle cx="428.0" cy="1648.4" r="4.4"/><circle cx="443.2" cy="1658.6" r="4.4"/><circle cx="428.8" cy="1906.2" r="4.4"/><circle cx="439.0" cy="1906.2" r="4.4"/></g>
<g fill="#0D438C" stroke="#fff" stroke-opacity="0.35" stroke-width="0.9"><circle cx="477.1" cy="1298.1" r="4.4"/><circle cx="461.0" cy="1338.2" r="4.4"/><circle cx="475.4" cy="1342.1" r="4.4"/><circle cx="472.9" cy="1351.1" r="4.4"/><circle cx="462.4" cy="1369.2" r="4.4"/><circle cx="466.1" cy="1381.5" r="4.4"/><circle cx="477.1" cy="1390.0" r="4.4"/><circle cx="460.7" cy="1395.5" r="4.4"/><circle cx="472.9" cy="1393.5" r="4.4"/><circle cx="459.3" cy="1407.0" r="4.4"/><circle cx="468.6" cy="1406.2" r="4.4"/><circle cx="472.9" cy="1409.5" r="4.4"/><circle cx="460.7" cy="1415.5" r="4.4"/><circle cx="476.2" cy="1417.2" r="4.4"/><circle cx="461.0" cy="1421.4" r="4.4"/><circle cx="476.2" cy="1424.3" r="4.4"/><circle cx="460.2" cy="1426.5" r="4.4"/><circle cx="474.5" cy="1435.4" r="4.4"/><circle cx="471.2" cy="1440.0" r="4.4"/><circle cx="464.4" cy="1442.5" r="4.4"/><circle cx="461.3" cy="1446.3" r="4.4"/><circle cx="477.1" cy="1481.8" r="4.4"/><circle cx="465.2" cy="1545.0" r="4.4"/><circle cx="464.4" cy="1709.7" r="4.4"/><circle cx="474.2" cy="1860.8" r="4.4"/><circle cx="464.7" cy="1906.2" r="4.4"/></g>
<g fill="#B31B2D" stroke="#fff" stroke-opacity="0.35" stroke-width="0.9"><circle cx="523.3" cy="1333.1" r="4.4"/><circle cx="516.9" cy="1381.9" r="4.4"/><circle cx="505.0" cy="1451.4" r="4.4"/><circle cx="510.1" cy="1456.9" r="4.4"/><circle cx="507.6" cy="1465.9" r="4.4"/><circle cx="509.8" cy="1477.2" r="4.4"/><circle cx="510.4" cy="1480.1" r="4.4"/><circle cx="521.9" cy="1484.0" r="4.4"/><circle cx="521.1" cy="1486.6" r="4.4"/><circle cx="511.8" cy="1500.1" r="4.4"/><circle cx="520.6" cy="1501.5" r="4.4"/><circle cx="519.4" cy="1506.5" r="4.4"/><circle cx="508.4" cy="1508.2" r="4.4"/><circle cx="509.2" cy="1512.3" r="4.4"/><circle cx="509.8" cy="1520.1" r="4.4"/><circle cx="506.7" cy="1533.6" r="4.4"/><circle cx="518.6" cy="1533.1" r="4.4"/><circle cx="509.8" cy="1553.9" r="4.4"/><circle cx="519.4" cy="1553.4" r="4.4"/><circle cx="509.8" cy="1577.1" r="4.4"/><circle cx="513.8" cy="1583.0" r="4.4"/><circle cx="516.5" cy="1906.2" r="4.4"/></g>
<g fill="#0D438C" stroke="#fff" stroke-opacity="0.35" stroke-width="0.9"><circle cx="539.2" cy="1346.7" r="4.4"/><circle cx="550.7" cy="1355.7" r="4.4"/><circle cx="550.7" cy="1362.9" r="4.4"/><circle cx="545.3" cy="1370.0" r="4.4"/><circle cx="536.8" cy="1374.3" r="4.4"/><circle cx="536.3" cy="1389.0" r="4.4"/><circle cx="544.8" cy="1389.0" r="4.4"/><circle cx="535.5" cy="1391.4" r="4.4"/><circle cx="539.2" cy="1412.9" r="4.4"/><circle cx="538.5" cy="1418.0" r="4.4"/><circle cx="537.2" cy="1424.8" r="4.4"/><circle cx="552.1" cy="1431.5" r="4.4"/><circle cx="544.8" cy="1439.2" r="4.4"/><circle cx="543.1" cy="1443.4" r="4.4"/><circle cx="548.7" cy="1445.1" r="4.4"/><circle cx="536.8" cy="1450.7" r="4.4"/><circle cx="553.3" cy="1494.7" r="4.4"/><circle cx="538.0" cy="1493.3" r="4.4"/><circle cx="538.9" cy="1498.1" r="4.4"/><circle cx="535.5" cy="1501.5" r="4.4"/><circle cx="547.3" cy="1504.3" r="4.4"/><circle cx="538.5" cy="1510.3" r="4.4"/><circle cx="539.7" cy="1521.8" r="4.4"/><circle cx="549.0" cy="1541.1" r="4.4"/><circle cx="536.8" cy="1547.5" r="4.4"/><circle cx="536.3" cy="1572.5" r="4.4"/><circle cx="553.8" cy="1685.7" r="4.4"/><circle cx="550.4" cy="1749.0" r="4.4"/><circle cx="543.1" cy="1906.2" r="4.4"/></g>
<g fill="#B31B2D" stroke="#fff" stroke-opacity="0.35" stroke-width="0.9"><circle cx="582.0" cy="1412.4" r="4.4"/><circle cx="594.7" cy="1458.6" r="4.4"/><circle cx="588.0" cy="1482.8" r="4.4"/><circle cx="595.1" cy="1542.4" r="4.4"/><circle cx="592.7" cy="1547.2" r="4.4"/><circle cx="597.8" cy="1549.5" r="4.4"/><circle cx="591.3" cy="1554.3" r="4.4"/><circle cx="585.4" cy="1563.6" r="4.4"/><circle cx="597.8" cy="1576.6" r="4.4"/><circle cx="595.6" cy="1584.7" r="4.4"/><circle cx="597.3" cy="1591.2" r="4.4"/><circle cx="582.5" cy="1591.8" r="4.4"/><circle cx="582.0" cy="1597.4" r="4.4"/><circle cx="593.4" cy="1599.1" r="4.4"/><circle cx="580.8" cy="1607.1" r="4.4"/><circle cx="583.7" cy="1629.8" r="4.4"/><circle cx="591.7" cy="1631.5" r="4.4"/><circle cx="590.0" cy="1656.4" r="4.4"/><circle cx="591.5" cy="1778.5" r="4.4"/><circle cx="593.0" cy="1906.2" r="4.4"/></g>
<g fill="#0D438C" stroke="#fff" stroke-opacity="0.35" stroke-width="0.9"><circle cx="626.5" cy="1350.0" r="4.4"/><circle cx="624.9" cy="1400.6" r="4.4"/><circle cx="628.9" cy="1406.7" r="4.4"/><circle cx="616.7" cy="1429.3" r="4.4"/><circle cx="625.2" cy="1429.9" r="4.4"/><circle cx="615.9" cy="1433.2" r="4.4"/><circle cx="614.2" cy="1445.1" r="4.4"/><circle cx="613.3" cy="1490.3" r="4.4"/><circle cx="617.6" cy="1494.2" r="4.4"/><circle cx="620.1" cy="1498.7" r="4.4"/><circle cx="624.3" cy="1506.5" r="4.4"/><circle cx="626.9" cy="1510.3" r="4.4"/><circle cx="618.4" cy="1515.0" r="4.4"/><circle cx="630.6" cy="1525.1" r="4.4"/><circle cx="618.4" cy="1530.2" r="4.4"/><circle cx="616.7" cy="1541.6" r="4.4"/><circle cx="614.2" cy="1548.8" r="4.4"/><circle cx="621.0" cy="1563.6" r="4.4"/><circle cx="614.2" cy="1577.1" r="4.4"/><circle cx="622.7" cy="1583.9" r="4.4"/><circle cx="631.1" cy="1586.8" r="4.4"/><circle cx="619.3" cy="1590.7" r="4.4"/><circle cx="629.9" cy="1596.2" r="4.4"/><circle cx="629.4" cy="1603.4" r="4.4"/><circle cx="616.7" cy="1628.5" r="4.4"/><circle cx="623.8" cy="1633.2" r="4.4"/><circle cx="614.2" cy="1666.0" r="4.4"/><circle cx="616.7" cy="1815.5" r="4.4"/></g>
<g fill="#B31B2D" stroke="#fff" stroke-opacity="0.35" stroke-width="0.9"><circle cx="668.3" cy="1438.6" r="4.4"/><circle cx="668.3" cy="1444.8" r="4.4"/><circle cx="668.0" cy="1493.6" r="4.4"/><circle cx="673.4" cy="1493.6" r="4.4"/><circle cx="666.6" cy="1524.7" r="4.4"/><circle cx="668.0" cy="1550.9" r="4.4"/><circle cx="662.4" cy="1591.2" r="4.4"/><circle cx="666.6" cy="1599.2" r="4.4"/><circle cx="674.2" cy="1606.5" r="4.4"/><circle cx="664.9" cy="1630.5" r="4.4"/><circle cx="673.4" cy="1653.8" r="4.4"/><circle cx="658.2" cy="1662.6" r="4.4"/><circle cx="673.1" cy="1669.4" r="4.4"/><circle cx="664.1" cy="1713.1" r="4.4"/><circle cx="660.7" cy="1749.1" r="4.4"/><circle cx="675.9" cy="1834.1" r="4.4"/><circle cx="659.8" cy="1906.2" r="4.4"/><circle cx="664.9" cy="1906.2" r="4.4"/><circle cx="672.5" cy="1906.2" r="4.4"/><circle cx="677.6" cy="1906.2" r="4.4"/></g>
<g fill="#0D438C" stroke="#fff" stroke-opacity="0.35" stroke-width="0.9"><circle cx="704.7" cy="1344.6" r="4.4"/><circle cx="703.0" cy="1352.8" r="4.4"/><circle cx="704.2" cy="1362.4" r="4.4"/><circle cx="706.4" cy="1392.4" r="4.4"/><circle cx="695.1" cy="1397.1" r="4.4"/><circle cx="703.5" cy="1411.0" r="4.4"/><circle cx="706.9" cy="1415.4" r="4.4"/><circle cx="695.7" cy="1419.4" r="4.4"/><circle cx="690.3" cy="1452.6" r="4.4"/><circle cx="694.5" cy="1456.0" r="4.4"/><circle cx="689.5" cy="1459.4" r="4.4"/><circle cx="702.2" cy="1465.1" r="4.4"/><circle cx="691.7" cy="1480.0" r="4.4"/><circle cx="701.8" cy="1485.1" r="4.4"/><circle cx="706.4" cy="1494.4" r="4.4"/><circle cx="707.2" cy="1494.2" r="4.4"/><circle cx="703.9" cy="1497.6" r="4.4"/><circle cx="692.9" cy="1506.9" r="4.4"/><circle cx="705.5" cy="1506.6" r="4.4"/><circle cx="690.0" cy="1517.1" r="4.4"/><circle cx="702.2" cy="1528.9" r="4.4"/><circle cx="705.9" cy="1537.1" r="4.4"/><circle cx="699.6" cy="1550.6" r="4.4"/><circle cx="702.5" cy="1598.3" r="4.4"/><circle cx="698.8" cy="1602.0" r="4.4"/><circle cx="707.2" cy="1605.9" r="4.4"/><circle cx="691.2" cy="1834.1" r="4.4"/><circle cx="700.8" cy="1906.2" r="4.4"/></g>
<g fill="#B31B2D" stroke="#fff" stroke-opacity="0.35" stroke-width="0.9"><circle cx="749.6" cy="1525.5" r="4.4"/><circle cx="750.4" cy="1545.5" r="4.4"/><circle cx="739.7" cy="1603.1" r="4.4"/><circle cx="748.7" cy="1666.0" r="4.4"/><circle cx="738.6" cy="1674.8" r="4.4"/><circle cx="753.3" cy="1674.8" r="4.4"/><circle cx="746.2" cy="1690.1" r="4.4"/><circle cx="747.9" cy="1755.0" r="4.4"/><circle cx="749.6" cy="1763.0" r="4.4"/><circle cx="753.8" cy="1769.7" r="4.4"/><circle cx="740.8" cy="1769.7" r="4.4"/><circle cx="745.3" cy="1788.4" r="4.4"/><circle cx="737.7" cy="1800.7" r="4.4"/><circle cx="747.9" cy="1815.4" r="4.4"/><circle cx="752.9" cy="1815.4" r="4.4"/><circle cx="756.3" cy="1815.4" r="4.4"/><circle cx="751.6" cy="1860.5" r="4.4"/><circle cx="742.8" cy="1906.2" r="4.4"/><circle cx="747.9" cy="1906.2" r="4.4"/><circle cx="752.9" cy="1906.2" r="4.4"/></g>
<g fill="#0D438C" stroke="#fff" stroke-opacity="0.35" stroke-width="0.9"><circle cx="779.2" cy="1360.7" r="4.4"/><circle cx="777.5" cy="1372.0" r="4.4"/><circle cx="780.4" cy="1462.8" r="4.4"/><circle cx="785.1" cy="1540.4" r="4.4"/><circle cx="774.1" cy="1600.9" r="4.4"/><circle cx="782.6" cy="1606.5" r="4.4"/><circle cx="767.3" cy="1612.2" r="4.4"/><circle cx="771.6" cy="1646.6" r="4.4"/><circle cx="783.1" cy="1645.4" r="4.4"/><circle cx="778.3" cy="1650.0" r="4.4"/><circle cx="780.9" cy="1653.3" r="4.4"/><circle cx="767.3" cy="1656.2" r="4.4"/><circle cx="769.0" cy="1667.4" r="4.4"/><circle cx="769.9" cy="1672.0" r="4.4"/><circle cx="785.1" cy="1667.4" r="4.4"/><circle cx="775.8" cy="1676.2" r="4.4"/><circle cx="779.2" cy="1697.3" r="4.4"/><circle cx="768.2" cy="1737.6" r="4.4"/><circle cx="771.6" cy="1738.1" r="4.4"/><circle cx="778.7" cy="1743.2" r="4.4"/><circle cx="767.3" cy="1749.1" r="4.4"/><circle cx="767.3" cy="1762.3" r="4.4"/><circle cx="769.5" cy="1778.7" r="4.4"/><circle cx="784.8" cy="1800.7" r="4.4"/><circle cx="780.0" cy="1834.1" r="4.4"/><circle cx="779.2" cy="1860.5" r="4.4"/><circle cx="766.5" cy="1906.2" r="4.4"/><circle cx="771.2" cy="1906.2" r="4.4"/><circle cx="783.1" cy="1906.2" r="4.4"/></g>
<g fill="#B31B2D" stroke="#fff" stroke-opacity="0.35" stroke-width="0.9"><circle cx="815.9" cy="1511.2" r="4.4"/><circle cx="824.9" cy="1541.6" r="4.4"/><circle cx="824.9" cy="1581.7" r="4.4"/><circle cx="819.0" cy="1612.2" r="4.4"/><circle cx="821.5" cy="1616.6" r="4.4"/><circle cx="827.1" cy="1617.3" r="4.4"/><circle cx="819.0" cy="1659.6" r="4.4"/><circle cx="818.6" cy="1713.1" r="4.4"/><circle cx="828.8" cy="1724.4" r="4.4"/><circle cx="822.0" cy="1762.3" r="4.4"/><circle cx="827.8" cy="1800.7" r="4.4"/><circle cx="830.5" cy="1834.1" r="4.4"/><circle cx="813.0" cy="1906.2" r="4.4"/><circle cx="818.1" cy="1906.2" r="4.4"/><circle cx="824.0" cy="1906.2" r="4.4"/><circle cx="830.0" cy="1906.2" r="4.4"/></g>
<g fill="#0D438C" stroke="#fff" stroke-opacity="0.35" stroke-width="0.9"><circle cx="846.4" cy="1426.7" r="4.4"/><circle cx="844.0" cy="1437.4" r="4.4"/><circle cx="855.9" cy="1458.9" r="4.4"/><circle cx="857.9" cy="1480.9" r="4.4"/><circle cx="862.1" cy="1486.8" r="4.4"/><circle cx="848.1" cy="1491.9" r="4.4"/><circle cx="861.6" cy="1490.0" r="4.4"/><circle cx="853.7" cy="1512.0" r="4.4"/><circle cx="852.0" cy="1515.7" r="4.4"/><circle cx="850.8" cy="1525.9" r="4.4"/><circle cx="859.2" cy="1530.3" r="4.4"/><circle cx="844.0" cy="1562.8" r="4.4"/><circle cx="858.7" cy="1586.1" r="4.4"/><circle cx="845.7" cy="1614.9" r="4.4"/><circle cx="852.8" cy="1615.3" r="4.4"/><circle cx="859.9" cy="1626.3" r="4.4"/><circle cx="859.9" cy="1631.3" r="4.4"/><circle cx="849.4" cy="1639.0" r="4.4"/><circle cx="850.3" cy="1692.3" r="4.4"/><circle cx="852.8" cy="1709.7" r="4.4"/><circle cx="857.7" cy="1728.3" r="4.4"/><circle cx="861.6" cy="1749.1" r="4.4"/><circle cx="860.4" cy="1788.9" r="4.4"/><circle cx="859.2" cy="1800.7" r="4.4"/><circle cx="852.0" cy="1906.2" r="4.4"/><circle cx="857.0" cy="1906.2" r="4.4"/><circle cx="861.0" cy="1906.2" r="4.4"/></g>
<g fill="#B31B2D" stroke="#fff" stroke-opacity="0.35" stroke-width="0.9"><circle cx="903.7" cy="1495.4" r="4.4"/><circle cx="889.3" cy="1507.8" r="4.4"/><circle cx="905.7" cy="1506.1" r="4.4"/><circle cx="899.5" cy="1544.5" r="4.4"/><circle cx="889.3" cy="1577.2" r="4.4"/><circle cx="894.4" cy="1578.4" r="4.4"/><circle cx="905.0" cy="1591.2" r="4.4"/><circle cx="907.1" cy="1613.6" r="4.4"/><circle cx="893.2" cy="1634.7" r="4.4"/><circle cx="908.4" cy="1632.5" r="4.4"/><circle cx="893.5" cy="1664.3" r="4.4"/><circle cx="905.4" cy="1665.7" r="4.4"/><circle cx="896.9" cy="1674.8" r="4.4"/><circle cx="892.2" cy="1690.1" r="4.4"/><circle cx="902.0" cy="1687.7" r="4.4"/><circle cx="892.2" cy="1724.4" r="4.4"/><circle cx="905.0" cy="1743.2" r="4.4"/><circle cx="891.8" cy="1749.1" r="4.4"/><circle cx="906.7" cy="1815.4" r="4.4"/><circle cx="892.7" cy="1906.2" r="4.4"/><circle cx="903.7" cy="1906.2" r="4.4"/></g>
<g fill="#0D438C" stroke="#fff" stroke-opacity="0.35" stroke-width="0.9"><circle cx="935.5" cy="1412.3" r="4.4"/><circle cx="932.1" cy="1429.6" r="4.4"/><circle cx="929.9" cy="1442.0" r="4.4"/><circle cx="935.0" cy="1441.4" r="4.4"/><circle cx="923.2" cy="1455.0" r="4.4"/><circle cx="928.2" cy="1474.1" r="4.4"/><circle cx="922.3" cy="1480.9" r="4.4"/><circle cx="937.5" cy="1488.5" r="4.4"/><circle cx="935.9" cy="1491.0" r="4.4"/><circle cx="933.3" cy="1506.1" r="4.4"/><circle cx="923.2" cy="1511.2" r="4.4"/><circle cx="929.1" cy="1512.9" r="4.4"/><circle cx="930.8" cy="1509.5" r="4.4"/><circle cx="935.9" cy="1523.9" r="4.4"/><circle cx="930.4" cy="1534.3" r="4.4"/><circle cx="923.2" cy="1549.6" r="4.4"/><circle cx="933.3" cy="1561.1" r="4.4"/><circle cx="933.3" cy="1565.3" r="4.4"/><circle cx="920.6" cy="1577.2" r="4.4"/><circle cx="924.9" cy="1577.7" r="4.4"/><circle cx="929.1" cy="1576.3" r="4.4"/><circle cx="937.5" cy="1573.8" r="4.4"/><circle cx="922.3" cy="1593.3" r="4.4"/><circle cx="933.3" cy="1610.5" r="4.4"/><circle cx="939.2" cy="1615.6" r="4.4"/><circle cx="933.8" cy="1630.1" r="4.4"/><circle cx="937.9" cy="1647.1" r="4.4"/><circle cx="938.4" cy="1664.3" r="4.4"/><circle cx="935.9" cy="1769.7" r="4.4"/><circle cx="936.7" cy="1906.2" r="4.4"/></g>
<g fill="#B31B2D" stroke="#fff" stroke-opacity="0.35" stroke-width="0.9"><circle cx="984.6" cy="1543.8" r="4.4"/><circle cx="967.2" cy="1569.9" r="4.4"/><circle cx="981.2" cy="1568.2" r="4.4"/><circle cx="971.1" cy="1594.9" r="4.4"/><circle cx="982.9" cy="1592.4" r="4.4"/><circle cx="981.2" cy="1650.5" r="4.4"/><circle cx="973.9" cy="1662.6" r="4.4"/><circle cx="967.2" cy="1674.8" r="4.4"/><circle cx="971.4" cy="1677.0" r="4.4"/><circle cx="977.8" cy="1698.5" r="4.4"/><circle cx="976.3" cy="1720.2" r="4.4"/><circle cx="980.2" cy="1769.7" r="4.4"/><circle cx="971.7" cy="1815.4" r="4.4"/><circle cx="973.4" cy="1860.5" r="4.4"/><circle cx="968.0" cy="1906.2" r="4.4"/><circle cx="973.1" cy="1906.2" r="4.4"/><circle cx="978.2" cy="1906.2" r="4.4"/><circle cx="983.2" cy="1906.2" r="4.4"/></g>
<g fill="#0D438C" stroke="#fff" stroke-opacity="0.35" stroke-width="0.9"><circle cx="1013.7" cy="1418.8" r="4.4"/><circle cx="1016.3" cy="1445.8" r="4.4"/><circle cx="1016.3" cy="1449.2" r="4.4"/><circle cx="1005.6" cy="1453.3" r="4.4"/><circle cx="1000.5" cy="1463.5" r="4.4"/><circle cx="1013.7" cy="1470.7" r="4.4"/><circle cx="1002.7" cy="1493.9" r="4.4"/><circle cx="1009.5" cy="1497.0" r="4.4"/><circle cx="1004.9" cy="1504.4" r="4.4"/><circle cx="1015.7" cy="1544.5" r="4.4"/><circle cx="999.3" cy="1554.3" r="4.4"/><circle cx="997.6" cy="1564.5" r="4.4"/><circle cx="1011.7" cy="1564.5" r="4.4"/><circle cx="1015.4" cy="1586.1" r="4.4"/><circle cx="998.5" cy="1593.3" r="4.4"/><circle cx="1012.0" cy="1611.9" r="4.4"/><circle cx="1000.5" cy="1619.0" r="4.4"/><circle cx="998.5" cy="1645.4" r="4.4"/><circle cx="1005.6" cy="1664.0" r="4.4"/><circle cx="998.1" cy="1677.5" r="4.4"/><circle cx="999.8" cy="1692.3" r="4.4"/><circle cx="1007.8" cy="1690.1" r="4.4"/><circle cx="1001.5" cy="1727.7" r="4.4"/><circle cx="1005.6" cy="1788.4" r="4.4"/><circle cx="997.6" cy="1800.7" r="4.4"/><circle cx="1004.9" cy="1906.2" r="4.4"/><circle cx="1012.9" cy="1906.2" r="4.4"/></g>
<g fill="#B31B2D" stroke="#fff" stroke-opacity="0.35" stroke-width="0.9"><circle cx="1062.0" cy="1620.0" r="4.4"/><circle cx="1045.5" cy="1644.9" r="4.4"/><circle cx="1060.8" cy="1664.3" r="4.4"/><circle cx="1054.3" cy="1685.5" r="4.4"/><circle cx="1056.4" cy="1700.2" r="4.4"/><circle cx="1055.7" cy="1703.6" r="4.4"/><circle cx="1043.8" cy="1706.7" r="4.4"/><circle cx="1049.3" cy="1713.1" r="4.4"/><circle cx="1051.8" cy="1727.8" r="4.4"/><circle cx="1048.9" cy="1712.7" r="4.4"/><circle cx="1047.9" cy="1742.7" r="4.4"/><circle cx="1049.3" cy="1738.1" r="4.4"/><circle cx="1053.0" cy="1761.8" r="4.4"/><circle cx="1045.0" cy="1906.2" r="4.4"/><circle cx="1050.1" cy="1906.2" r="4.4"/><circle cx="1055.2" cy="1906.2" r="4.4"/><circle cx="1060.3" cy="1906.2" r="4.4"/></g>
<g fill="#0D438C" stroke="#fff" stroke-opacity="0.35" stroke-width="0.9"><circle cx="1076.7" cy="1532.3" r="4.4"/><circle cx="1086.2" cy="1582.2" r="4.4"/><circle cx="1092.9" cy="1582.8" r="4.4"/><circle cx="1082.8" cy="1602.6" r="4.4"/><circle cx="1087.9" cy="1601.4" r="4.4"/><circle cx="1091.2" cy="1606.5" r="4.4"/><circle cx="1079.4" cy="1628.5" r="4.4"/><circle cx="1082.3" cy="1634.2" r="4.4"/><circle cx="1092.4" cy="1637.6" r="4.4"/><circle cx="1087.9" cy="1641.0" r="4.4"/><circle cx="1084.8" cy="1655.9" r="4.4"/><circle cx="1080.6" cy="1659.3" r="4.4"/><circle cx="1076.7" cy="1662.3" r="4.4"/><circle cx="1077.2" cy="1685.0" r="4.4"/><circle cx="1081.4" cy="1694.0" r="4.4"/><circle cx="1087.9" cy="1697.3" r="4.4"/><circle cx="1089.0" cy="1709.7" r="4.4"/><circle cx="1080.1" cy="1727.7" r="4.4"/><circle cx="1091.6" cy="1738.1" r="4.4"/><circle cx="1092.9" cy="1761.8" r="4.4"/><circle cx="1088.2" cy="1769.7" r="4.4"/><circle cx="1080.1" cy="1815.4" r="4.4"/><circle cx="1079.7" cy="1860.5" r="4.4"/><circle cx="1078.9" cy="1906.2" r="4.4"/><circle cx="1089.0" cy="1906.2" r="4.4"/></g>
<g fill="#B31B2D" stroke="#fff" stroke-opacity="0.35" stroke-width="0.9"><circle cx="1132.5" cy="1590.9" r="4.4"/><circle cx="1136.9" cy="1635.7" r="4.4"/><circle cx="1125.7" cy="1703.1" r="4.4"/><circle cx="1127.1" cy="1718.7" r="4.4"/><circle cx="1133.0" cy="1718.7" r="4.4"/><circle cx="1125.4" cy="1724.5" r="4.4"/><circle cx="1136.9" cy="1733.0" r="4.4"/><circle cx="1127.9" cy="1755.0" r="4.4"/><circle cx="1131.8" cy="1761.8" r="4.4"/><circle cx="1127.1" cy="1769.4" r="4.4"/><circle cx="1138.1" cy="1778.7" r="4.4"/><circle cx="1120.6" cy="1788.4" r="4.4"/><circle cx="1126.7" cy="1800.7" r="4.4"/><circle cx="1120.6" cy="1815.4" r="4.4"/><circle cx="1133.9" cy="1834.1" r="4.4"/><circle cx="1127.9" cy="1860.5" r="4.4"/><circle cx="1120.0" cy="1906.2" r="4.4"/><circle cx="1125.0" cy="1906.2" r="4.4"/><circle cx="1135.9" cy="1906.2" r="4.4"/></g>
<g fill="#0D438C" stroke="#fff" stroke-opacity="0.35" stroke-width="0.9"><circle cx="1157.5" cy="1581.9" r="4.4"/><circle cx="1170.2" cy="1619.6" r="4.4"/><circle cx="1160.1" cy="1633.2" r="4.4"/><circle cx="1163.5" cy="1638.3" r="4.4"/><circle cx="1167.7" cy="1638.3" r="4.4"/><circle cx="1161.3" cy="1641.6" r="4.4"/><circle cx="1169.4" cy="1642.2" r="4.4"/><circle cx="1160.1" cy="1649.3" r="4.4"/><circle cx="1163.5" cy="1653.5" r="4.4"/><circle cx="1166.0" cy="1656.0" r="4.4"/><circle cx="1152.8" cy="1659.8" r="4.4"/><circle cx="1165.2" cy="1667.5" r="4.4"/><circle cx="1157.5" cy="1680.6" r="4.4"/><circle cx="1169.1" cy="1682.8" r="4.4"/><circle cx="1151.6" cy="1686.2" r="4.4"/><circle cx="1166.9" cy="1692.4" r="4.4"/><circle cx="1169.4" cy="1706.5" r="4.4"/><circle cx="1160.1" cy="1700.4" r="4.4"/><circle cx="1152.8" cy="1724.5" r="4.4"/><circle cx="1162.6" cy="1720.7" r="4.4"/><circle cx="1157.5" cy="1769.7" r="4.4"/><circle cx="1154.5" cy="1860.5" r="4.4"/><circle cx="1155.9" cy="1906.2" r="4.4"/><circle cx="1160.9" cy="1906.2" r="4.4"/></g>
<g fill="#B31B2D" stroke="#fff" stroke-opacity="0.35" stroke-width="0.9"><circle cx="1204.6" cy="1755.0" r="4.4"/><circle cx="1214.8" cy="1755.0" r="4.4"/><circle cx="1198.2" cy="1762.3" r="4.4"/><circle cx="1201.9" cy="1769.7" r="4.4"/><circle cx="1213.7" cy="1778.7" r="4.4"/><circle cx="1214.3" cy="1788.9" r="4.4"/><circle cx="1203.6" cy="1800.7" r="4.4"/><circle cx="1215.9" cy="1800.7" r="4.4"/><circle cx="1206.6" cy="1815.4" r="4.4"/><circle cx="1203.6" cy="1834.1" r="4.4"/><circle cx="1208.0" cy="1834.1" r="4.4"/><circle cx="1201.6" cy="1860.5" r="4.4"/><circle cx="1203.3" cy="1860.5" r="4.4"/><circle cx="1200.7" cy="1906.2" r="4.4"/><circle cx="1205.8" cy="1906.2" r="4.4"/><circle cx="1211.7" cy="1906.2" r="4.4"/><circle cx="1216.8" cy="1906.2" r="4.4"/></g>
<g fill="#0D438C" stroke="#fff" stroke-opacity="0.35" stroke-width="0.9"><circle cx="1234.6" cy="1589.7" r="4.4"/><circle cx="1242.2" cy="1631.5" r="4.4"/><circle cx="1231.2" cy="1637.8" r="4.4"/><circle cx="1236.3" cy="1655.7" r="4.4"/><circle cx="1243.9" cy="1654.0" r="4.4"/><circle cx="1236.8" cy="1660.8" r="4.4"/><circle cx="1233.7" cy="1678.9" r="4.4"/><circle cx="1243.9" cy="1678.9" r="4.4"/><circle cx="1238.5" cy="1685.7" r="4.4"/><circle cx="1238.5" cy="1689.9" r="4.4"/><circle cx="1233.4" cy="1706.5" r="4.4"/><circle cx="1236.8" cy="1719.5" r="4.4"/><circle cx="1230.0" cy="1733.0" r="4.4"/><circle cx="1236.3" cy="1743.2" r="4.4"/><circle cx="1247.3" cy="1749.1" r="4.4"/><circle cx="1237.4" cy="1778.7" r="4.4"/><circle cx="1238.8" cy="1788.9" r="4.4"/><circle cx="1243.0" cy="1788.9" r="4.4"/><circle cx="1235.4" cy="1800.7" r="4.4"/><circle cx="1240.5" cy="1815.4" r="4.4"/><circle cx="1245.2" cy="1815.4" r="4.4"/><circle cx="1229.0" cy="1906.2" r="4.4"/><circle cx="1234.0" cy="1906.2" r="4.4"/><circle cx="1239.0" cy="1906.2" r="4.4"/><circle cx="1244.0" cy="1906.2" r="4.4"/><circle cx="1248.0" cy="1906.2" r="4.4"/></g>
<g stroke="#000" stroke-width="1.5" fill="none"><line x1="205.9" y1="1407.9" x2="205.9" y2="1436.3"/><line x1="202.15" y1="1407.9" x2="209.65" y2="1407.9"/><line x1="202.15" y1="1436.3" x2="209.65" y2="1436.3"/><line x1="197.9" y1="1422.2" x2="213.9" y2="1422.2"/></g><circle cx="205.9" cy="1422.2" r="3.6" fill="#fff" stroke="#000" stroke-width="1.3"/>
<g stroke="#000" stroke-width="1.5" fill="none"><line x1="236.9" y1="1317.6" x2="236.9" y2="1337.5"/><line x1="233.15" y1="1317.6" x2="240.65" y2="1317.6"/><line x1="233.15" y1="1337.5" x2="240.65" y2="1337.5"/><line x1="228.9" y1="1327.4" x2="244.9" y2="1327.4"/></g><circle cx="236.9" cy="1327.4" r="3.6" fill="#fff" stroke="#000" stroke-width="1.3"/>
<g stroke="#000" stroke-width="1.5" fill="none"><line x1="283.4" y1="1451.4" x2="283.4" y2="1528"/><line x1="279.65" y1="1451.4" x2="287.15" y2="1451.4"/><line x1="279.65" y1="1528" x2="287.15" y2="1528"/><line x1="275.4" y1="1489.6" x2="291.4" y2="1489.6"/></g><circle cx="283.4" cy="1489.6" r="3.6" fill="#fff" stroke="#000" stroke-width="1.3"/>
<g stroke="#000" stroke-width="1.5" fill="none"><line x1="313.8" y1="1363.6" x2="313.8" y2="1411.2"/><line x1="310.05" y1="1363.6" x2="317.55" y2="1363.6"/><line x1="310.05" y1="1411.2" x2="317.55" y2="1411.2"/><line x1="305.8" y1="1388" x2="321.8" y2="1388"/></g><circle cx="313.8" cy="1388" r="3.6" fill="#fff" stroke="#000" stroke-width="1.3"/>
<g stroke="#000" stroke-width="1.5" fill="none"><line x1="360.2" y1="1523" x2="360.2" y2="1579.3"/><line x1="356.45" y1="1523" x2="363.95" y2="1523"/><line x1="356.45" y1="1579.3" x2="363.95" y2="1579.3"/><line x1="352.2" y1="1551.7" x2="368.2" y2="1551.7"/></g><circle cx="360.2" cy="1551.7" r="3.6" fill="#fff" stroke="#000" stroke-width="1.3"/>
<g stroke="#000" stroke-width="1.5" fill="none"><line x1="390.9" y1="1435.8" x2="390.9" y2="1489.1"/><line x1="387.15" y1="1435.8" x2="394.65" y2="1435.8"/><line x1="387.15" y1="1489.1" x2="394.65" y2="1489.1"/><line x1="382.9" y1="1462.9" x2="398.9" y2="1462.9"/></g><circle cx="390.9" cy="1462.9" r="3.6" fill="#fff" stroke="#000" stroke-width="1.3"/>
<g stroke="#000" stroke-width="1.5" fill="none"><line x1="437.0" y1="1492" x2="437.0" y2="1552.2"/><line x1="433.25" y1="1492" x2="440.75" y2="1492"/><line x1="433.25" y1="1552.2" x2="440.75" y2="1552.2"/><line x1="429.0" y1="1521.8" x2="445.0" y2="1521.8"/></g><circle cx="437.0" cy="1521.8" r="3.6" fill="#fff" stroke="#000" stroke-width="1.3"/>
<g stroke="#000" stroke-width="1.5" fill="none"><line x1="467.8" y1="1429.3" x2="467.8" y2="1478.4"/><line x1="464.05" y1="1429.3" x2="471.55" y2="1429.3"/><line x1="464.05" y1="1478.4" x2="471.55" y2="1478.4"/><line x1="459.8" y1="1454.1" x2="475.8" y2="1454.1"/></g><circle cx="467.8" cy="1454.1" r="3.6" fill="#fff" stroke="#000" stroke-width="1.3"/>
<g stroke="#000" stroke-width="1.5" fill="none"><line x1="514.0" y1="1494.2" x2="514.0" y2="1536.5"/><line x1="510.25" y1="1494.2" x2="517.75" y2="1494.2"/><line x1="510.25" y1="1536.5" x2="517.75" y2="1536.5"/><line x1="506.0" y1="1515.3" x2="522.0" y2="1515.3"/></g><circle cx="514.0" cy="1515.3" r="3.6" fill="#fff" stroke="#000" stroke-width="1.3"/>
<g stroke="#000" stroke-width="1.5" fill="none"><line x1="544.8" y1="1461.5" x2="544.8" y2="1504.8"/><line x1="541.05" y1="1461.5" x2="548.55" y2="1461.5"/><line x1="541.05" y1="1504.8" x2="548.55" y2="1504.8"/><line x1="536.8" y1="1483.2" x2="552.8" y2="1483.2"/></g><circle cx="544.8" cy="1483.2" r="3.6" fill="#fff" stroke="#000" stroke-width="1.3"/>
<g stroke="#000" stroke-width="1.5" fill="none"><line x1="591.0" y1="1565.3" x2="591.0" y2="1607.1"/><line x1="587.25" y1="1565.3" x2="594.75" y2="1565.3"/><line x1="587.25" y1="1607.1" x2="594.75" y2="1607.1"/><line x1="583.0" y1="1586.1" x2="599.0" y2="1586.1"/></g><circle cx="591.0" cy="1586.1" r="3.6" fill="#fff" stroke="#000" stroke-width="1.3"/>
<g stroke="#000" stroke-width="1.5" fill="none"><line x1="621.8" y1="1516.2" x2="621.8" y2="1550"/><line x1="618.05" y1="1516.2" x2="625.55" y2="1516.2"/><line x1="618.05" y1="1550" x2="625.55" y2="1550"/><line x1="613.8" y1="1533.1" x2="629.8" y2="1533.1"/></g><circle cx="621.8" cy="1533.1" r="3.6" fill="#fff" stroke="#000" stroke-width="1.3"/>
<g stroke="#000" stroke-width="1.5" fill="none"><line x1="668.0" y1="1660.1" x2="668.0" y2="1730.8"/><line x1="664.25" y1="1660.1" x2="671.75" y2="1660.1"/><line x1="664.25" y1="1730.8" x2="671.75" y2="1730.8"/><line x1="660.0" y1="1695.7" x2="676.0" y2="1695.7"/></g><circle cx="668.0" cy="1695.7" r="3.6" fill="#fff" stroke="#000" stroke-width="1.3"/>
<g stroke="#000" stroke-width="1.5" fill="none"><line x1="698.8" y1="1486.5" x2="698.8" y2="1539.1"/><line x1="695.05" y1="1486.5" x2="702.55" y2="1486.5"/><line x1="695.05" y1="1539.1" x2="702.55" y2="1539.1"/><line x1="690.8" y1="1512.9" x2="706.8" y2="1512.9"/></g><circle cx="698.8" cy="1512.9" r="3.6" fill="#fff" stroke="#000" stroke-width="1.3"/>
<g stroke="#000" stroke-width="1.5" fill="none"><line x1="745.0" y1="1735.5" x2="745.0" y2="1779.6"/><line x1="741.25" y1="1735.5" x2="748.75" y2="1735.5"/><line x1="741.25" y1="1779.6" x2="748.75" y2="1779.6"/><line x1="737.0" y1="1757.9" x2="753.0" y2="1757.9"/></g><circle cx="745.0" cy="1757.9" r="3.6" fill="#fff" stroke="#000" stroke-width="1.3"/>
<g stroke="#000" stroke-width="1.5" fill="none"><line x1="775.8" y1="1662.3" x2="775.8" y2="1711.7"/><line x1="772.05" y1="1662.3" x2="779.55" y2="1662.3"/><line x1="772.05" y1="1711.7" x2="779.55" y2="1711.7"/><line x1="767.8" y1="1686.7" x2="783.8" y2="1686.7"/></g><circle cx="775.8" cy="1686.7" r="3.6" fill="#fff" stroke="#000" stroke-width="1.3"/>
<g stroke="#000" stroke-width="1.5" fill="none"><line x1="822.0" y1="1750.4" x2="822.0" y2="1810.4"/><line x1="818.25" y1="1750.4" x2="825.75" y2="1750.4"/><line x1="818.25" y1="1810.4" x2="825.75" y2="1810.4"/><line x1="814.0" y1="1780.4" x2="830.0" y2="1780.4"/></g><circle cx="822.0" cy="1780.4" r="3.6" fill="#fff" stroke="#000" stroke-width="1.3"/>
<g stroke="#000" stroke-width="1.5" fill="none"><line x1="852.8" y1="1622.4" x2="852.8" y2="1682.1"/><line x1="849.05" y1="1622.4" x2="856.55" y2="1622.4"/><line x1="849.05" y1="1682.1" x2="856.55" y2="1682.1"/><line x1="844.8" y1="1652.2" x2="860.8" y2="1652.2"/></g><circle cx="852.8" cy="1652.2" r="3.6" fill="#fff" stroke="#000" stroke-width="1.3"/>
<g stroke="#000" stroke-width="1.5" fill="none"><line x1="899.0" y1="1630.8" x2="899.0" y2="1679.2"/><line x1="895.25" y1="1630.8" x2="902.75" y2="1630.8"/><line x1="895.25" y1="1679.2" x2="902.75" y2="1679.2"/><line x1="891.0" y1="1655.0" x2="907.0" y2="1655.0"/></g><circle cx="899.0" cy="1655.0" r="3.6" fill="#fff" stroke="#000" stroke-width="1.3"/>
<g stroke="#000" stroke-width="1.5" fill="none"><line x1="929.8" y1="1535.7" x2="929.8" y2="1572.9"/><line x1="926.05" y1="1535.7" x2="933.55" y2="1535.7"/><line x1="926.05" y1="1572.9" x2="933.55" y2="1572.9"/><line x1="921.8" y1="1554.7" x2="937.8" y2="1554.7"/></g><circle cx="929.8" cy="1554.7" r="3.6" fill="#fff" stroke="#000" stroke-width="1.3"/>
<g stroke="#000" stroke-width="1.5" fill="none"><line x1="976.0" y1="1734.7" x2="976.0" y2="1792.2"/><line x1="972.25" y1="1734.7" x2="979.75" y2="1734.7"/><line x1="972.25" y1="1792.2" x2="979.75" y2="1792.2"/><line x1="968.0" y1="1763.5" x2="984.0" y2="1763.5"/></g><circle cx="976.0" cy="1763.5" r="3.6" fill="#fff" stroke="#000" stroke-width="1.3"/>
<g stroke="#000" stroke-width="1.5" fill="none"><line x1="1006.8" y1="1600.4" x2="1006.8" y2="1655"/><line x1="1003.05" y1="1600.4" x2="1010.55" y2="1600.4"/><line x1="1003.05" y1="1655" x2="1010.55" y2="1655"/><line x1="998.8" y1="1628.0" x2="1014.8" y2="1628.0"/></g><circle cx="1006.8" cy="1628.0" r="3.6" fill="#fff" stroke="#000" stroke-width="1.3"/>
<g stroke="#000" stroke-width="1.5" fill="none"><line x1="1053.0" y1="1768.6" x2="1053.0" y2="1813.1"/><line x1="1049.25" y1="1768.6" x2="1056.75" y2="1768.6"/><line x1="1049.25" y1="1813.1" x2="1056.75" y2="1813.1"/><line x1="1045.0" y1="1791.1" x2="1061.0" y2="1791.1"/></g><circle cx="1053.0" cy="1791.1" r="3.6" fill="#fff" stroke="#000" stroke-width="1.3"/>
<g stroke="#000" stroke-width="1.5" fill="none"><line x1="1083.8" y1="1680.4" x2="1083.8" y2="1719.9"/><line x1="1080.05" y1="1680.4" x2="1087.55" y2="1680.4"/><line x1="1080.05" y1="1719.9" x2="1087.55" y2="1719.9"/><line x1="1075.8" y1="1700.2" x2="1091.8" y2="1700.2"/></g><circle cx="1083.8" cy="1700.2" r="3.6" fill="#fff" stroke="#000" stroke-width="1.3"/>
<g stroke="#000" stroke-width="1.5" fill="none"><line x1="1130.0" y1="1773.6" x2="1130.0" y2="1810.9"/><line x1="1126.25" y1="1773.6" x2="1133.75" y2="1773.6"/><line x1="1126.25" y1="1810.9" x2="1133.75" y2="1810.9"/><line x1="1122.0" y1="1792.2" x2="1138.0" y2="1792.2"/></g><circle cx="1130.0" cy="1792.2" r="3.6" fill="#fff" stroke="#000" stroke-width="1.3"/>
<g stroke="#000" stroke-width="1.5" fill="none"><line x1="1160.8" y1="1689" x2="1160.8" y2="1720"/><line x1="1157.05" y1="1689" x2="1164.55" y2="1689"/><line x1="1157.05" y1="1720" x2="1164.55" y2="1720"/><line x1="1152.8" y1="1704.8" x2="1168.8" y2="1704.8"/></g><circle cx="1160.8" cy="1704.8" r="3.6" fill="#fff" stroke="#000" stroke-width="1.3"/>
<g stroke="#000" stroke-width="1.5" fill="none"><line x1="1207.0" y1="1828.3" x2="1207.0" y2="1853.7"/><line x1="1203.25" y1="1828.3" x2="1210.75" y2="1828.3"/><line x1="1203.25" y1="1853.7" x2="1210.75" y2="1853.7"/><line x1="1199.0" y1="1840.8" x2="1215.0" y2="1840.8"/></g><circle cx="1207.0" cy="1840.8" r="3.6" fill="#fff" stroke="#000" stroke-width="1.3"/>
<g stroke="#000" stroke-width="1.5" fill="none"><line x1="1237.8" y1="1750.4" x2="1237.8" y2="1787.7"/><line x1="1234.05" y1="1750.4" x2="1241.55" y2="1750.4"/><line x1="1234.05" y1="1787.7" x2="1241.55" y2="1787.7"/><line x1="1229.8" y1="1769.1" x2="1245.8" y2="1769.1"/></g><circle cx="1237.8" cy="1769.1" r="3.6" fill="#fff" stroke="#000" stroke-width="1.3"/>
<path d="M175.9,1131.7 L175.9,1927.7 L1266.7,1927.7" fill="none" stroke="#000" stroke-width="2.2"/>
<line x1="169.9" y1="1905.8" x2="175.9" y2="1905.8" stroke="#000" stroke-width="2"/>
<text x="165.4" y="1921.0" font-size="40" text-anchor="end" font-family="Liberation Sans, sans-serif">0</text>
<line x1="169.9" y1="1754.8" x2="175.9" y2="1754.8" stroke="#000" stroke-width="2"/>
<text x="165.4" y="1770.0" font-size="40" text-anchor="end" font-family="Liberation Sans, sans-serif">1</text>
<line x1="169.9" y1="1603.8" x2="175.9" y2="1603.8" stroke="#000" stroke-width="2"/>
<text x="165.4" y="1619.0" font-size="40" text-anchor="end" font-family="Liberation Sans, sans-serif">2</text>
<line x1="169.9" y1="1452.8" x2="175.9" y2="1452.8" stroke="#000" stroke-width="2"/>
<text x="165.4" y="1468.0" font-size="40" text-anchor="end" font-family="Liberation Sans, sans-serif">3</text>
<line x1="169.9" y1="1301.8" x2="175.9" y2="1301.8" stroke="#000" stroke-width="2"/>
<text x="165.4" y="1317.0" font-size="40" text-anchor="end" font-family="Liberation Sans, sans-serif">4</text>
<line x1="169.9" y1="1150.8" x2="175.9" y2="1150.8" stroke="#000" stroke-width="2"/>
<text x="165.4" y="1166.0" font-size="40" text-anchor="end" font-family="Liberation Sans, sans-serif">5</text>
<line x1="221.4" y1="1927.7" x2="221.4" y2="1934.2" stroke="#000" stroke-width="2"/>
<line x1="298.4" y1="1927.7" x2="298.4" y2="1934.2" stroke="#000" stroke-width="2"/>
<line x1="375.4" y1="1927.7" x2="375.4" y2="1934.2" stroke="#000" stroke-width="2"/>
<line x1="452.4" y1="1927.7" x2="452.4" y2="1934.2" stroke="#000" stroke-width="2"/>
<line x1="529.4" y1="1927.7" x2="529.4" y2="1934.2" stroke="#000" stroke-width="2"/>
<line x1="606.4" y1="1927.7" x2="606.4" y2="1934.2" stroke="#000" stroke-width="2"/>
<line x1="683.4" y1="1927.7" x2="683.4" y2="1934.2" stroke="#000" stroke-width="2"/>
<line x1="760.4" y1="1927.7" x2="760.4" y2="1934.2" stroke="#000" stroke-width="2"/>
<line x1="837.4" y1="1927.7" x2="837.4" y2="1934.2" stroke="#000" stroke-width="2"/>
<line x1="914.4" y1="1927.7" x2="914.4" y2="1934.2" stroke="#000" stroke-width="2"/>
<line x1="991.4" y1="1927.7" x2="991.4" y2="1934.2" stroke="#000" stroke-width="2"/>
<line x1="1068.4" y1="1927.7" x2="1068.4" y2="1934.2" stroke="#000" stroke-width="2"/>
<line x1="1145.4" y1="1927.7" x2="1145.4" y2="1934.2" stroke="#000" stroke-width="2"/>
<line x1="1222.4" y1="1927.7" x2="1222.4" y2="1934.2" stroke="#000" stroke-width="2"/>
<path d="M206.3,1193.2 L206.3,1182.2 L236.8,1182.2 L236.8,1193.2" fill="none" stroke="#000" stroke-width="2"/><path d="M205.95,1171.90L205.95,1165.70M205.95,1171.90L200.05,1169.98M205.95,1171.90L202.31,1176.92M205.95,1171.90L209.59,1176.92M205.95,1171.90L211.85,1169.98M221.55,1171.90L221.55,1165.70M221.55,1171.90L215.65,1169.98M221.55,1171.90L217.91,1176.92M221.55,1171.90L225.19,1176.92M221.55,1171.90L227.45,1169.98M237.15,1171.90L237.15,1165.70M237.15,1171.90L231.25,1169.98M237.15,1171.90L233.51,1176.92M237.15,1171.90L240.79,1176.92M237.15,1171.90L243.05,1169.98" stroke="#000" stroke-width="3.0" fill="none"/>
<path d="M282.8,1200.8 L282.8,1189.8 L314.1,1189.8 L314.1,1200.8" fill="none" stroke="#000" stroke-width="2"/><path d="M298.45,1179.50L298.45,1173.30M298.45,1179.50L292.55,1177.58M298.45,1179.50L294.81,1184.52M298.45,1179.50L302.09,1184.52M298.45,1179.50L304.35,1177.58" stroke="#000" stroke-width="3.0" fill="none"/>
<path d="M359.5,1261.7 L359.5,1250.2 L391.3,1250.2 L391.3,1261.7" fill="none" stroke="#000" stroke-width="2"/><path d="M367.60,1239.90L367.60,1233.70M367.60,1239.90L361.70,1237.98M367.60,1239.90L363.96,1244.92M367.60,1239.90L371.24,1244.92M367.60,1239.90L373.50,1237.98M383.20,1239.90L383.20,1233.70M383.20,1239.90L377.30,1237.98M383.20,1239.90L379.56,1244.92M383.20,1239.90L386.84,1244.92M383.20,1239.90L389.10,1237.98" stroke="#000" stroke-width="3.0" fill="none"/>
<path d="M437.0,1288.0 L437.0,1277.0 L468.1,1277.0 L468.1,1288.0" fill="none" stroke="#000" stroke-width="2"/><path d="M444.75,1266.70L444.75,1260.50M444.75,1266.70L438.85,1264.78M444.75,1266.70L441.11,1271.72M444.75,1266.70L448.39,1271.72M444.75,1266.70L450.65,1264.78M460.35,1266.70L460.35,1260.50M460.35,1266.70L454.45,1264.78M460.35,1266.70L456.71,1271.72M460.35,1266.70L463.99,1271.72M460.35,1266.70L466.25,1264.78" stroke="#000" stroke-width="3.0" fill="none"/>
<path d="M513.8,1323.0 L513.8,1312.2 L545.1,1312.2 L545.1,1323.0" fill="none" stroke="#000" stroke-width="2"/><path d="M529.45,1301.90L529.45,1295.70M529.45,1301.90L523.55,1299.98M529.45,1301.90L525.81,1306.92M529.45,1301.90L533.09,1306.92M529.45,1301.90L535.35,1299.98" stroke="#000" stroke-width="3.0" fill="none"/>
<path d="M591.0,1339.9 L591.0,1328.6 L622.3,1328.6 L622.3,1339.9" fill="none" stroke="#000" stroke-width="2"/><path d="M606.65,1318.30L606.65,1312.10M606.65,1318.30L600.75,1316.38M606.65,1318.30L603.01,1323.32M606.65,1318.30L610.29,1323.32M606.65,1318.30L612.55,1316.38" stroke="#000" stroke-width="3.0" fill="none"/>
<path d="M668.0,1335.3 L668.0,1324.0 L698.8,1324.0 L698.8,1335.3" fill="none" stroke="#000" stroke-width="2"/><path d="M667.80,1313.70L667.80,1307.50M667.80,1313.70L661.90,1311.78M667.80,1313.70L664.16,1318.72M667.80,1313.70L671.44,1318.72M667.80,1313.70L673.70,1311.78M683.40,1313.70L683.40,1307.50M683.40,1313.70L677.50,1311.78M683.40,1313.70L679.76,1318.72M683.40,1313.70L687.04,1318.72M683.40,1313.70L689.30,1311.78M699.00,1313.70L699.00,1307.50M699.00,1313.70L693.10,1311.78M699.00,1313.70L695.36,1318.72M699.00,1313.70L702.64,1318.72M699.00,1313.70L704.90,1311.78" stroke="#000" stroke-width="3.0" fill="none"/>
<path d="M744.8,1351.0 L744.8,1339.6 L776.1,1339.6 L776.1,1351.0" fill="none" stroke="#000" stroke-width="2"/><path d="M760.45,1329.30L760.45,1323.10M760.45,1329.30L754.55,1327.38M760.45,1329.30L756.81,1334.32M760.45,1329.30L764.09,1334.32M760.45,1329.30L766.35,1327.38" stroke="#000" stroke-width="3.0" fill="none"/>
<path d="M821.5,1417.1 L821.5,1405.9 L853.3,1405.9 L853.3,1417.1" fill="none" stroke="#000" stroke-width="2"/><path d="M829.60,1395.60L829.60,1389.40M829.60,1395.60L823.70,1393.68M829.60,1395.60L825.96,1400.62M829.60,1395.60L833.24,1400.62M829.60,1395.60L835.50,1393.68M845.20,1395.60L845.20,1389.40M845.20,1395.60L839.30,1393.68M845.20,1395.60L841.56,1400.62M845.20,1395.60L848.84,1400.62M845.20,1395.60L851.10,1393.68" stroke="#000" stroke-width="3.0" fill="none"/>
<path d="M898.6,1402.5 L898.6,1391.2 L929.9,1391.2 L929.9,1402.5" fill="none" stroke="#000" stroke-width="2"/><path d="M898.65,1380.90L898.65,1374.70M898.65,1380.90L892.75,1378.98M898.65,1380.90L895.01,1385.92M898.65,1380.90L902.29,1385.92M898.65,1380.90L904.55,1378.98M914.25,1380.90L914.25,1374.70M914.25,1380.90L908.35,1378.98M914.25,1380.90L910.61,1385.92M914.25,1380.90L917.89,1385.92M914.25,1380.90L920.15,1378.98M929.85,1380.90L929.85,1374.70M929.85,1380.90L923.95,1378.98M929.85,1380.90L926.21,1385.92M929.85,1380.90L933.49,1385.92M929.85,1380.90L935.75,1378.98" stroke="#000" stroke-width="3.0" fill="none"/>
<path d="M975.6,1409.0 L975.6,1397.4 L1006.9,1397.4 L1006.9,1409.0" fill="none" stroke="#000" stroke-width="2"/><path d="M983.45,1387.10L983.45,1380.90M983.45,1387.10L977.55,1385.18M983.45,1387.10L979.81,1392.12M983.45,1387.10L987.09,1392.12M983.45,1387.10L989.35,1385.18M999.05,1387.10L999.05,1380.90M999.05,1387.10L993.15,1385.18M999.05,1387.10L995.41,1392.12M999.05,1387.10L1002.69,1392.12M999.05,1387.10L1004.95,1385.18" stroke="#000" stroke-width="3.0" fill="none"/>
<path d="M1052.6,1523.0 L1052.6,1511.2 L1084.0,1511.2 L1084.0,1523.0" fill="none" stroke="#000" stroke-width="2"/><path d="M1052.70,1500.90L1052.70,1494.70M1052.70,1500.90L1046.80,1498.98M1052.70,1500.90L1049.06,1505.92M1052.70,1500.90L1056.34,1505.92M1052.70,1500.90L1058.60,1498.98M1068.30,1500.90L1068.30,1494.70M1068.30,1500.90L1062.40,1498.98M1068.30,1500.90L1064.66,1505.92M1068.30,1500.90L1071.94,1505.92M1068.30,1500.90L1074.20,1498.98M1083.90,1500.90L1083.90,1494.70M1083.90,1500.90L1078.00,1498.98M1083.90,1500.90L1080.26,1505.92M1083.90,1500.90L1087.54,1505.92M1083.90,1500.90L1089.80,1498.98" stroke="#000" stroke-width="3.0" fill="none"/>
<path d="M1129.6,1572.8 L1129.6,1561.6 L1160.6,1561.6 L1160.6,1572.8" fill="none" stroke="#000" stroke-width="2"/><path d="M1129.50,1551.30L1129.50,1545.10M1129.50,1551.30L1123.60,1549.38M1129.50,1551.30L1125.86,1556.32M1129.50,1551.30L1133.14,1556.32M1129.50,1551.30L1135.40,1549.38M1145.10,1551.30L1145.10,1545.10M1145.10,1551.30L1139.20,1549.38M1145.10,1551.30L1141.46,1556.32M1145.10,1551.30L1148.74,1556.32M1145.10,1551.30L1151.00,1549.38M1160.70,1551.30L1160.70,1545.10M1160.70,1551.30L1154.80,1549.38M1160.70,1551.30L1157.06,1556.32M1160.70,1551.30L1164.34,1556.32M1160.70,1551.30L1166.60,1549.38" stroke="#000" stroke-width="3.0" fill="none"/>
<path d="M1206.6,1580.2 L1206.6,1568.4 L1238.0,1568.4 L1238.0,1580.2" fill="none" stroke="#000" stroke-width="2"/><path d="M1214.50,1558.10L1214.50,1551.90M1214.50,1558.10L1208.60,1556.18M1214.50,1558.10L1210.86,1563.12M1214.50,1558.10L1218.14,1563.12M1214.50,1558.10L1220.40,1556.18M1230.10,1558.10L1230.10,1551.90M1230.10,1558.10L1224.20,1556.18M1230.10,1558.10L1226.46,1563.12M1230.10,1558.10L1233.74,1563.12M1230.10,1558.10L1236.00,1556.18" stroke="#000" stroke-width="3.0" fill="none"/>
<text transform="translate(239.5,1958.0) rotate(-45)" x="-122.9" y="0.0" font-size="40.2" font-family="Liberation Sans, sans-serif">Blautia</text>
<text transform="translate(316.5,1958.0) rotate(-45)" x="-277.1" y="0.0" font-size="40.2" font-family="Liberation Sans, sans-serif">Bifidobacterium</text>
<text transform="translate(393.5,1958.0) rotate(-45)" x="-476.0" y="0.0" font-size="40.2" font-family="Liberation Sans, sans-serif">[Eubacterium]_hallii_group</text>
<text transform="translate(470.5,1958.0) rotate(-45)" x="-301.7" y="0.0" font-size="40.2" font-family="Liberation Sans, sans-serif">Subdoligranulum</text>
<text transform="translate(547.5,1958.0) rotate(-45)" x="-109.5" y="0.0" font-size="40.2" font-family="Liberation Sans, sans-serif">Dorea</text>
<text transform="translate(624.5,1958.0) rotate(-45)" x="-234.7" y="0.0" font-size="40.2" font-family="Liberation Sans, sans-serif">Anaerostipes</text>
<text transform="translate(701.5,1958.0) rotate(-45)" x="-543.0" y="0.0" font-size="40.2" font-family="Liberation Sans, sans-serif">Erysipelotrichaceae_UCG-003</text>
<text transform="translate(778.5,1958.0) rotate(-45)" x="-272.6" y="0.0" font-size="40.2" font-family="Liberation Sans, sans-serif">Achromobacter</text>
<text transform="translate(855.5,1958.0) rotate(-45)" x="-234.6" y="0.0" font-size="40.2" font-family="Liberation Sans, sans-serif">Adlercreutzia</text>
<text transform="translate(932.5,1958.0) rotate(-45)" x="-219.0" y="0.0" font-size="40.2" font-family="Liberation Sans, sans-serif">Monoglobus</text>
<text transform="translate(1009.5,1958.0) rotate(-45)" x="-619.0" y="0.0" font-size="40.2" font-family="Liberation Sans, sans-serif">[Ruminococcus]_gauvreauii_group</text>
<text transform="translate(1086.5,1958.0) rotate(-45)" x="-490.9" y="0.0" font-size="40.2" font-family="Liberation Sans, sans-serif">Family_XIII_AD3011_group</text>
<text transform="translate(1163.5,1958.0) rotate(-45)" x="-227.9" y="0.0" font-size="40.2" font-family="Liberation Sans, sans-serif">Actinomyces</text>
<text transform="translate(1240.5,1958.0) rotate(-45)" x="-254.8" y="0.0" font-size="40.2" font-family="Liberation Sans, sans-serif">Gordonibacter</text>
<rect x="1278.8500000000001" y="1500.0500000000002" width="21.9" height="26.2" fill="#DAA4A7" stroke="#000" stroke-width="2.6"/><circle cx="1289.7" cy="1513.2" r="6.3" fill="#B31B2D"/><text x="1305.0" y="1527.2" font-size="40.3" font-family="Liberation Sans, sans-serif">NFPA</text><rect x="1278.8500000000001" y="1531.3500000000001" width="21.9" height="26.2" fill="#9BB1CB" stroke="#000" stroke-width="2.6"/><circle cx="1289.7" cy="1544.5" r="6.3" fill="#0D438C"/><text x="1305.0" y="1558.5" font-size="40.3" font-family="Liberation Sans, sans-serif">HC</text>
</svg></body></html>
